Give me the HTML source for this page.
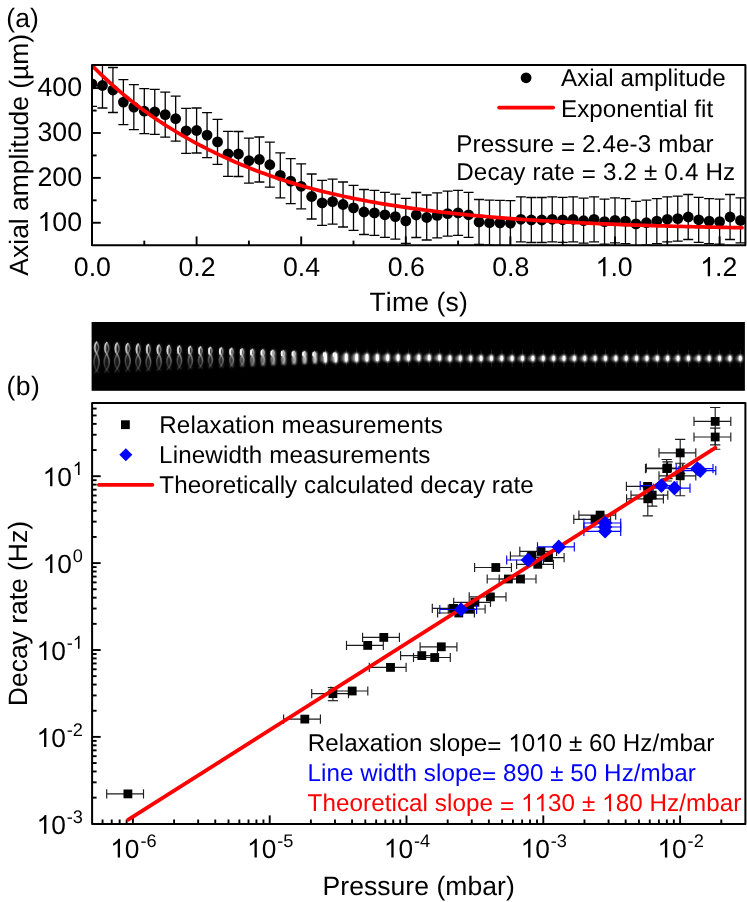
<!DOCTYPE html>
<html><head><meta charset="utf-8"><title>figure</title>
<style>html,body{margin:0;padding:0;background:#fff;overflow:hidden}svg{display:block;font-family:"Liberation Sans", sans-serif;will-change:transform;transform:translateZ(0);-webkit-font-smoothing:antialiased;text-rendering:geometricPrecision;font-kerning:none}</style></head><body>
<svg width="747" height="902" viewBox="0 0 747 902">
<defs>
<clipPath id="ct"><rect x="92.0" y="65.0" width="653.4" height="180.2"/></clipPath>
<clipPath id="cb"><rect x="92.1" y="403.1" width="653.3" height="420.9"/></clipPath>
<clipPath id="cs"><rect x="91.6" y="322" width="653.3" height="68.8"/></clipPath>
<filter id="b1" x="-50%" y="-50%" width="200%" height="200%"><feGaussianBlur stdDeviation="0.7"/></filter>
<filter id="b2" x="-50%" y="-50%" width="200%" height="200%"><feGaussianBlur stdDeviation="0.9"/></filter>
<filter id="b0" x="-50%" y="-50%" width="200%" height="200%"><feGaussianBlur stdDeviation="0.45"/></filter>
<linearGradient id="gb" x1="0" y1="0" x2="0" y2="1"><stop offset="0" stop-color="#fff" stop-opacity="0.95"/><stop offset="0.18" stop-color="#fff" stop-opacity="0.72"/><stop offset="0.6" stop-color="#fff" stop-opacity="0.55"/><stop offset="0.85" stop-color="#fff" stop-opacity="0.34"/><stop offset="1" stop-color="#fff" stop-opacity="0.15"/></linearGradient>
<linearGradient id="gs" x1="0" y1="0" x2="0" y2="1"><stop offset="0" stop-color="#fff" stop-opacity="0.95"/><stop offset="0.2" stop-color="#fff" stop-opacity="0.72"/><stop offset="0.6" stop-color="#fff" stop-opacity="0.55"/><stop offset="0.85" stop-color="#fff" stop-opacity="0.32"/><stop offset="1" stop-color="#fff" stop-opacity="0.12"/></linearGradient>
<filter id="b3" x="-50%" y="-50%" width="200%" height="200%"><feGaussianBlur stdDeviation="0.6"/></filter>
</defs>
<rect x="0" y="0" width="747" height="902" fill="#fff"/>
<line x1="92.00" y1="222.76" x2="100.80" y2="222.76" stroke="#000" stroke-width="1.9" />
<line x1="92.00" y1="177.88" x2="100.80" y2="177.88" stroke="#000" stroke-width="1.9" />
<line x1="92.00" y1="133.00" x2="100.80" y2="133.00" stroke="#000" stroke-width="1.9" />
<line x1="92.00" y1="88.12" x2="100.80" y2="88.12" stroke="#000" stroke-width="1.9" />
<line x1="92.00" y1="200.32" x2="96.60" y2="200.32" stroke="#000" stroke-width="1.9" />
<line x1="92.00" y1="155.44" x2="96.60" y2="155.44" stroke="#000" stroke-width="1.9" />
<line x1="92.00" y1="110.56" x2="96.60" y2="110.56" stroke="#000" stroke-width="1.9" />
<line x1="92.00" y1="245.20" x2="92.00" y2="236.40" stroke="#000" stroke-width="1.9" />
<line x1="144.30" y1="245.20" x2="144.30" y2="240.60" stroke="#000" stroke-width="1.9" />
<line x1="196.60" y1="245.20" x2="196.60" y2="236.40" stroke="#000" stroke-width="1.9" />
<line x1="248.90" y1="245.20" x2="248.90" y2="240.60" stroke="#000" stroke-width="1.9" />
<line x1="301.20" y1="245.20" x2="301.20" y2="236.40" stroke="#000" stroke-width="1.9" />
<line x1="353.50" y1="245.20" x2="353.50" y2="240.60" stroke="#000" stroke-width="1.9" />
<line x1="405.80" y1="245.20" x2="405.80" y2="236.40" stroke="#000" stroke-width="1.9" />
<line x1="458.10" y1="245.20" x2="458.10" y2="240.60" stroke="#000" stroke-width="1.9" />
<line x1="510.40" y1="245.20" x2="510.40" y2="236.40" stroke="#000" stroke-width="1.9" />
<line x1="562.70" y1="245.20" x2="562.70" y2="240.60" stroke="#000" stroke-width="1.9" />
<line x1="615.00" y1="245.20" x2="615.00" y2="236.40" stroke="#000" stroke-width="1.9" />
<line x1="667.30" y1="245.20" x2="667.30" y2="240.60" stroke="#000" stroke-width="1.9" />
<line x1="719.60" y1="245.20" x2="719.60" y2="236.40" stroke="#000" stroke-width="1.9" />
<g clip-path="url(#ct)">
<line x1="92.00" y1="61.40" x2="92.00" y2="106.40" stroke="#000" stroke-width="1.3" />
<line x1="87.00" y1="61.40" x2="97.00" y2="61.40" stroke="#000" stroke-width="1.3" />
<line x1="87.00" y1="106.40" x2="97.00" y2="106.40" stroke="#000" stroke-width="1.3" />
<line x1="102.46" y1="63.00" x2="102.46" y2="108.00" stroke="#000" stroke-width="1.3" />
<line x1="97.46" y1="63.00" x2="107.46" y2="63.00" stroke="#000" stroke-width="1.3" />
<line x1="97.46" y1="108.00" x2="107.46" y2="108.00" stroke="#000" stroke-width="1.3" />
<line x1="112.92" y1="67.50" x2="112.92" y2="112.50" stroke="#000" stroke-width="1.3" />
<line x1="107.92" y1="67.50" x2="117.92" y2="67.50" stroke="#000" stroke-width="1.3" />
<line x1="107.92" y1="112.50" x2="117.92" y2="112.50" stroke="#000" stroke-width="1.3" />
<line x1="123.38" y1="79.60" x2="123.38" y2="124.60" stroke="#000" stroke-width="1.3" />
<line x1="118.38" y1="79.60" x2="128.38" y2="79.60" stroke="#000" stroke-width="1.3" />
<line x1="118.38" y1="124.60" x2="128.38" y2="124.60" stroke="#000" stroke-width="1.3" />
<line x1="133.84" y1="84.60" x2="133.84" y2="129.60" stroke="#000" stroke-width="1.3" />
<line x1="128.84" y1="84.60" x2="138.84" y2="84.60" stroke="#000" stroke-width="1.3" />
<line x1="128.84" y1="129.60" x2="138.84" y2="129.60" stroke="#000" stroke-width="1.3" />
<line x1="144.30" y1="88.70" x2="144.30" y2="133.70" stroke="#000" stroke-width="1.3" />
<line x1="139.30" y1="88.70" x2="149.30" y2="88.70" stroke="#000" stroke-width="1.3" />
<line x1="139.30" y1="133.70" x2="149.30" y2="133.70" stroke="#000" stroke-width="1.3" />
<line x1="154.76" y1="89.40" x2="154.76" y2="134.40" stroke="#000" stroke-width="1.3" />
<line x1="149.76" y1="89.40" x2="159.76" y2="89.40" stroke="#000" stroke-width="1.3" />
<line x1="149.76" y1="134.40" x2="159.76" y2="134.40" stroke="#000" stroke-width="1.3" />
<line x1="165.22" y1="92.10" x2="165.22" y2="137.10" stroke="#000" stroke-width="1.3" />
<line x1="160.22" y1="92.10" x2="170.22" y2="92.10" stroke="#000" stroke-width="1.3" />
<line x1="160.22" y1="137.10" x2="170.22" y2="137.10" stroke="#000" stroke-width="1.3" />
<line x1="175.68" y1="96.20" x2="175.68" y2="141.20" stroke="#000" stroke-width="1.3" />
<line x1="170.68" y1="96.20" x2="180.68" y2="96.20" stroke="#000" stroke-width="1.3" />
<line x1="170.68" y1="141.20" x2="180.68" y2="141.20" stroke="#000" stroke-width="1.3" />
<line x1="186.14" y1="108.30" x2="186.14" y2="153.30" stroke="#000" stroke-width="1.3" />
<line x1="181.14" y1="108.30" x2="191.14" y2="108.30" stroke="#000" stroke-width="1.3" />
<line x1="181.14" y1="153.30" x2="191.14" y2="153.30" stroke="#000" stroke-width="1.3" />
<line x1="196.60" y1="108.00" x2="196.60" y2="153.00" stroke="#000" stroke-width="1.3" />
<line x1="191.60" y1="108.00" x2="201.60" y2="108.00" stroke="#000" stroke-width="1.3" />
<line x1="191.60" y1="153.00" x2="201.60" y2="153.00" stroke="#000" stroke-width="1.3" />
<line x1="207.06" y1="112.60" x2="207.06" y2="157.60" stroke="#000" stroke-width="1.3" />
<line x1="202.06" y1="112.60" x2="212.06" y2="112.60" stroke="#000" stroke-width="1.3" />
<line x1="202.06" y1="157.60" x2="212.06" y2="157.60" stroke="#000" stroke-width="1.3" />
<line x1="217.52" y1="119.40" x2="217.52" y2="164.40" stroke="#000" stroke-width="1.3" />
<line x1="212.52" y1="119.40" x2="222.52" y2="119.40" stroke="#000" stroke-width="1.3" />
<line x1="212.52" y1="164.40" x2="222.52" y2="164.40" stroke="#000" stroke-width="1.3" />
<line x1="227.98" y1="131.30" x2="227.98" y2="176.30" stroke="#000" stroke-width="1.3" />
<line x1="222.98" y1="131.30" x2="232.98" y2="131.30" stroke="#000" stroke-width="1.3" />
<line x1="222.98" y1="176.30" x2="232.98" y2="176.30" stroke="#000" stroke-width="1.3" />
<line x1="238.44" y1="131.50" x2="238.44" y2="176.50" stroke="#000" stroke-width="1.3" />
<line x1="233.44" y1="131.50" x2="243.44" y2="131.50" stroke="#000" stroke-width="1.3" />
<line x1="233.44" y1="176.50" x2="243.44" y2="176.50" stroke="#000" stroke-width="1.3" />
<line x1="248.90" y1="138.10" x2="248.90" y2="183.10" stroke="#000" stroke-width="1.3" />
<line x1="243.90" y1="138.10" x2="253.90" y2="138.10" stroke="#000" stroke-width="1.3" />
<line x1="243.90" y1="183.10" x2="253.90" y2="183.10" stroke="#000" stroke-width="1.3" />
<line x1="259.36" y1="137.00" x2="259.36" y2="182.00" stroke="#000" stroke-width="1.3" />
<line x1="254.36" y1="137.00" x2="264.36" y2="137.00" stroke="#000" stroke-width="1.3" />
<line x1="254.36" y1="182.00" x2="264.36" y2="182.00" stroke="#000" stroke-width="1.3" />
<line x1="269.82" y1="142.20" x2="269.82" y2="187.20" stroke="#000" stroke-width="1.3" />
<line x1="264.82" y1="142.20" x2="274.82" y2="142.20" stroke="#000" stroke-width="1.3" />
<line x1="264.82" y1="187.20" x2="274.82" y2="187.20" stroke="#000" stroke-width="1.3" />
<line x1="280.28" y1="152.90" x2="280.28" y2="197.90" stroke="#000" stroke-width="1.3" />
<line x1="275.28" y1="152.90" x2="285.28" y2="152.90" stroke="#000" stroke-width="1.3" />
<line x1="275.28" y1="197.90" x2="285.28" y2="197.90" stroke="#000" stroke-width="1.3" />
<line x1="290.74" y1="158.60" x2="290.74" y2="203.60" stroke="#000" stroke-width="1.3" />
<line x1="285.74" y1="158.60" x2="295.74" y2="158.60" stroke="#000" stroke-width="1.3" />
<line x1="285.74" y1="203.60" x2="295.74" y2="203.60" stroke="#000" stroke-width="1.3" />
<line x1="301.20" y1="163.80" x2="301.20" y2="208.80" stroke="#000" stroke-width="1.3" />
<line x1="296.20" y1="163.80" x2="306.20" y2="163.80" stroke="#000" stroke-width="1.3" />
<line x1="296.20" y1="208.80" x2="306.20" y2="208.80" stroke="#000" stroke-width="1.3" />
<line x1="311.66" y1="174.00" x2="311.66" y2="219.00" stroke="#000" stroke-width="1.3" />
<line x1="306.66" y1="174.00" x2="316.66" y2="174.00" stroke="#000" stroke-width="1.3" />
<line x1="306.66" y1="219.00" x2="316.66" y2="219.00" stroke="#000" stroke-width="1.3" />
<line x1="322.12" y1="180.40" x2="322.12" y2="225.40" stroke="#000" stroke-width="1.3" />
<line x1="317.12" y1="180.40" x2="327.12" y2="180.40" stroke="#000" stroke-width="1.3" />
<line x1="317.12" y1="225.40" x2="327.12" y2="225.40" stroke="#000" stroke-width="1.3" />
<line x1="332.58" y1="179.10" x2="332.58" y2="224.10" stroke="#000" stroke-width="1.3" />
<line x1="327.58" y1="179.10" x2="337.58" y2="179.10" stroke="#000" stroke-width="1.3" />
<line x1="327.58" y1="224.10" x2="337.58" y2="224.10" stroke="#000" stroke-width="1.3" />
<line x1="343.04" y1="182.00" x2="343.04" y2="227.00" stroke="#000" stroke-width="1.3" />
<line x1="338.04" y1="182.00" x2="348.04" y2="182.00" stroke="#000" stroke-width="1.3" />
<line x1="338.04" y1="227.00" x2="348.04" y2="227.00" stroke="#000" stroke-width="1.3" />
<line x1="353.50" y1="185.40" x2="353.50" y2="230.40" stroke="#000" stroke-width="1.3" />
<line x1="348.50" y1="185.40" x2="358.50" y2="185.40" stroke="#000" stroke-width="1.3" />
<line x1="348.50" y1="230.40" x2="358.50" y2="230.40" stroke="#000" stroke-width="1.3" />
<line x1="363.96" y1="189.50" x2="363.96" y2="234.50" stroke="#000" stroke-width="1.3" />
<line x1="358.96" y1="189.50" x2="368.96" y2="189.50" stroke="#000" stroke-width="1.3" />
<line x1="358.96" y1="234.50" x2="368.96" y2="234.50" stroke="#000" stroke-width="1.3" />
<line x1="374.42" y1="190.40" x2="374.42" y2="235.40" stroke="#000" stroke-width="1.3" />
<line x1="369.42" y1="190.40" x2="379.42" y2="190.40" stroke="#000" stroke-width="1.3" />
<line x1="369.42" y1="235.40" x2="379.42" y2="235.40" stroke="#000" stroke-width="1.3" />
<line x1="384.88" y1="192.30" x2="384.88" y2="237.30" stroke="#000" stroke-width="1.3" />
<line x1="379.88" y1="192.30" x2="389.88" y2="192.30" stroke="#000" stroke-width="1.3" />
<line x1="379.88" y1="237.30" x2="389.88" y2="237.30" stroke="#000" stroke-width="1.3" />
<line x1="395.34" y1="194.10" x2="395.34" y2="239.10" stroke="#000" stroke-width="1.3" />
<line x1="390.34" y1="194.10" x2="400.34" y2="194.10" stroke="#000" stroke-width="1.3" />
<line x1="390.34" y1="239.10" x2="400.34" y2="239.10" stroke="#000" stroke-width="1.3" />
<line x1="405.80" y1="198.40" x2="405.80" y2="243.40" stroke="#000" stroke-width="1.3" />
<line x1="400.80" y1="198.40" x2="410.80" y2="198.40" stroke="#000" stroke-width="1.3" />
<line x1="400.80" y1="243.40" x2="410.80" y2="243.40" stroke="#000" stroke-width="1.3" />
<line x1="416.26" y1="192.50" x2="416.26" y2="237.50" stroke="#000" stroke-width="1.3" />
<line x1="411.26" y1="192.50" x2="421.26" y2="192.50" stroke="#000" stroke-width="1.3" />
<line x1="411.26" y1="237.50" x2="421.26" y2="237.50" stroke="#000" stroke-width="1.3" />
<line x1="426.72" y1="195.00" x2="426.72" y2="240.00" stroke="#000" stroke-width="1.3" />
<line x1="421.72" y1="195.00" x2="431.72" y2="195.00" stroke="#000" stroke-width="1.3" />
<line x1="421.72" y1="240.00" x2="431.72" y2="240.00" stroke="#000" stroke-width="1.3" />
<line x1="437.18" y1="192.90" x2="437.18" y2="237.90" stroke="#000" stroke-width="1.3" />
<line x1="432.18" y1="192.90" x2="442.18" y2="192.90" stroke="#000" stroke-width="1.3" />
<line x1="432.18" y1="237.90" x2="442.18" y2="237.90" stroke="#000" stroke-width="1.3" />
<line x1="447.64" y1="191.10" x2="447.64" y2="236.10" stroke="#000" stroke-width="1.3" />
<line x1="442.64" y1="191.10" x2="452.64" y2="191.10" stroke="#000" stroke-width="1.3" />
<line x1="442.64" y1="236.10" x2="452.64" y2="236.10" stroke="#000" stroke-width="1.3" />
<line x1="458.10" y1="190.40" x2="458.10" y2="235.40" stroke="#000" stroke-width="1.3" />
<line x1="453.10" y1="190.40" x2="463.10" y2="190.40" stroke="#000" stroke-width="1.3" />
<line x1="453.10" y1="235.40" x2="463.10" y2="235.40" stroke="#000" stroke-width="1.3" />
<line x1="468.56" y1="192.30" x2="468.56" y2="237.30" stroke="#000" stroke-width="1.3" />
<line x1="463.56" y1="192.30" x2="473.56" y2="192.30" stroke="#000" stroke-width="1.3" />
<line x1="463.56" y1="237.30" x2="473.56" y2="237.30" stroke="#000" stroke-width="1.3" />
<line x1="479.02" y1="199.50" x2="479.02" y2="244.50" stroke="#000" stroke-width="1.3" />
<line x1="474.02" y1="199.50" x2="484.02" y2="199.50" stroke="#000" stroke-width="1.3" />
<line x1="474.02" y1="244.50" x2="484.02" y2="244.50" stroke="#000" stroke-width="1.3" />
<line x1="489.48" y1="200.20" x2="489.48" y2="245.20" stroke="#000" stroke-width="1.3" />
<line x1="484.48" y1="200.20" x2="494.48" y2="200.20" stroke="#000" stroke-width="1.3" />
<line x1="484.48" y1="245.20" x2="494.48" y2="245.20" stroke="#000" stroke-width="1.3" />
<line x1="499.94" y1="200.40" x2="499.94" y2="245.40" stroke="#000" stroke-width="1.3" />
<line x1="494.94" y1="200.40" x2="504.94" y2="200.40" stroke="#000" stroke-width="1.3" />
<line x1="494.94" y1="245.40" x2="504.94" y2="245.40" stroke="#000" stroke-width="1.3" />
<line x1="510.40" y1="200.70" x2="510.40" y2="245.70" stroke="#000" stroke-width="1.3" />
<line x1="505.40" y1="200.70" x2="515.40" y2="200.70" stroke="#000" stroke-width="1.3" />
<line x1="505.40" y1="245.70" x2="515.40" y2="245.70" stroke="#000" stroke-width="1.3" />
<line x1="520.86" y1="196.80" x2="520.86" y2="241.80" stroke="#000" stroke-width="1.3" />
<line x1="515.86" y1="196.80" x2="525.86" y2="196.80" stroke="#000" stroke-width="1.3" />
<line x1="515.86" y1="241.80" x2="525.86" y2="241.80" stroke="#000" stroke-width="1.3" />
<line x1="531.32" y1="197.50" x2="531.32" y2="242.50" stroke="#000" stroke-width="1.3" />
<line x1="526.32" y1="197.50" x2="536.32" y2="197.50" stroke="#000" stroke-width="1.3" />
<line x1="526.32" y1="242.50" x2="536.32" y2="242.50" stroke="#000" stroke-width="1.3" />
<line x1="541.78" y1="197.50" x2="541.78" y2="242.50" stroke="#000" stroke-width="1.3" />
<line x1="536.78" y1="197.50" x2="546.78" y2="197.50" stroke="#000" stroke-width="1.3" />
<line x1="536.78" y1="242.50" x2="546.78" y2="242.50" stroke="#000" stroke-width="1.3" />
<line x1="552.24" y1="196.80" x2="552.24" y2="241.80" stroke="#000" stroke-width="1.3" />
<line x1="547.24" y1="196.80" x2="557.24" y2="196.80" stroke="#000" stroke-width="1.3" />
<line x1="547.24" y1="241.80" x2="557.24" y2="241.80" stroke="#000" stroke-width="1.3" />
<line x1="562.70" y1="197.30" x2="562.70" y2="242.30" stroke="#000" stroke-width="1.3" />
<line x1="557.70" y1="197.30" x2="567.70" y2="197.30" stroke="#000" stroke-width="1.3" />
<line x1="557.70" y1="242.30" x2="567.70" y2="242.30" stroke="#000" stroke-width="1.3" />
<line x1="573.16" y1="196.80" x2="573.16" y2="241.80" stroke="#000" stroke-width="1.3" />
<line x1="568.16" y1="196.80" x2="578.16" y2="196.80" stroke="#000" stroke-width="1.3" />
<line x1="568.16" y1="241.80" x2="578.16" y2="241.80" stroke="#000" stroke-width="1.3" />
<line x1="583.62" y1="198.20" x2="583.62" y2="243.20" stroke="#000" stroke-width="1.3" />
<line x1="578.62" y1="198.20" x2="588.62" y2="198.20" stroke="#000" stroke-width="1.3" />
<line x1="578.62" y1="243.20" x2="588.62" y2="243.20" stroke="#000" stroke-width="1.3" />
<line x1="594.08" y1="196.80" x2="594.08" y2="241.80" stroke="#000" stroke-width="1.3" />
<line x1="589.08" y1="196.80" x2="599.08" y2="196.80" stroke="#000" stroke-width="1.3" />
<line x1="589.08" y1="241.80" x2="599.08" y2="241.80" stroke="#000" stroke-width="1.3" />
<line x1="604.54" y1="199.10" x2="604.54" y2="244.10" stroke="#000" stroke-width="1.3" />
<line x1="599.54" y1="199.10" x2="609.54" y2="199.10" stroke="#000" stroke-width="1.3" />
<line x1="599.54" y1="244.10" x2="609.54" y2="244.10" stroke="#000" stroke-width="1.3" />
<line x1="615.00" y1="197.90" x2="615.00" y2="242.90" stroke="#000" stroke-width="1.3" />
<line x1="610.00" y1="197.90" x2="620.00" y2="197.90" stroke="#000" stroke-width="1.3" />
<line x1="610.00" y1="242.90" x2="620.00" y2="242.90" stroke="#000" stroke-width="1.3" />
<line x1="625.46" y1="198.60" x2="625.46" y2="243.60" stroke="#000" stroke-width="1.3" />
<line x1="620.46" y1="198.60" x2="630.46" y2="198.60" stroke="#000" stroke-width="1.3" />
<line x1="620.46" y1="243.60" x2="630.46" y2="243.60" stroke="#000" stroke-width="1.3" />
<line x1="635.92" y1="201.40" x2="635.92" y2="246.40" stroke="#000" stroke-width="1.3" />
<line x1="630.92" y1="201.40" x2="640.92" y2="201.40" stroke="#000" stroke-width="1.3" />
<line x1="630.92" y1="246.40" x2="640.92" y2="246.40" stroke="#000" stroke-width="1.3" />
<line x1="646.38" y1="200.20" x2="646.38" y2="245.20" stroke="#000" stroke-width="1.3" />
<line x1="641.38" y1="200.20" x2="651.38" y2="200.20" stroke="#000" stroke-width="1.3" />
<line x1="641.38" y1="245.20" x2="651.38" y2="245.20" stroke="#000" stroke-width="1.3" />
<line x1="656.84" y1="198.60" x2="656.84" y2="243.60" stroke="#000" stroke-width="1.3" />
<line x1="651.84" y1="198.60" x2="661.84" y2="198.60" stroke="#000" stroke-width="1.3" />
<line x1="651.84" y1="243.60" x2="661.84" y2="243.60" stroke="#000" stroke-width="1.3" />
<line x1="667.30" y1="196.80" x2="667.30" y2="241.80" stroke="#000" stroke-width="1.3" />
<line x1="662.30" y1="196.80" x2="672.30" y2="196.80" stroke="#000" stroke-width="1.3" />
<line x1="662.30" y1="241.80" x2="672.30" y2="241.80" stroke="#000" stroke-width="1.3" />
<line x1="677.76" y1="196.10" x2="677.76" y2="241.10" stroke="#000" stroke-width="1.3" />
<line x1="672.76" y1="196.10" x2="682.76" y2="196.10" stroke="#000" stroke-width="1.3" />
<line x1="672.76" y1="241.10" x2="682.76" y2="241.10" stroke="#000" stroke-width="1.3" />
<line x1="688.22" y1="194.50" x2="688.22" y2="239.50" stroke="#000" stroke-width="1.3" />
<line x1="683.22" y1="194.50" x2="693.22" y2="194.50" stroke="#000" stroke-width="1.3" />
<line x1="683.22" y1="239.50" x2="693.22" y2="239.50" stroke="#000" stroke-width="1.3" />
<line x1="698.68" y1="197.30" x2="698.68" y2="242.30" stroke="#000" stroke-width="1.3" />
<line x1="693.68" y1="197.30" x2="703.68" y2="197.30" stroke="#000" stroke-width="1.3" />
<line x1="693.68" y1="242.30" x2="703.68" y2="242.30" stroke="#000" stroke-width="1.3" />
<line x1="709.14" y1="198.60" x2="709.14" y2="243.60" stroke="#000" stroke-width="1.3" />
<line x1="704.14" y1="198.60" x2="714.14" y2="198.60" stroke="#000" stroke-width="1.3" />
<line x1="704.14" y1="243.60" x2="714.14" y2="243.60" stroke="#000" stroke-width="1.3" />
<line x1="719.60" y1="199.10" x2="719.60" y2="244.10" stroke="#000" stroke-width="1.3" />
<line x1="714.60" y1="199.10" x2="724.60" y2="199.10" stroke="#000" stroke-width="1.3" />
<line x1="714.60" y1="244.10" x2="724.60" y2="244.10" stroke="#000" stroke-width="1.3" />
<line x1="730.06" y1="194.50" x2="730.06" y2="239.50" stroke="#000" stroke-width="1.3" />
<line x1="725.06" y1="194.50" x2="735.06" y2="194.50" stroke="#000" stroke-width="1.3" />
<line x1="725.06" y1="239.50" x2="735.06" y2="239.50" stroke="#000" stroke-width="1.3" />
<line x1="740.52" y1="197.90" x2="740.52" y2="242.90" stroke="#000" stroke-width="1.3" />
<line x1="735.52" y1="197.90" x2="745.52" y2="197.90" stroke="#000" stroke-width="1.3" />
<line x1="735.52" y1="242.90" x2="745.52" y2="242.90" stroke="#000" stroke-width="1.3" />
<circle cx="92.00" cy="83.90" r="5.4" fill="#000"/>
<circle cx="102.46" cy="85.50" r="5.4" fill="#000"/>
<circle cx="112.92" cy="90.00" r="5.4" fill="#000"/>
<circle cx="123.38" cy="102.10" r="5.4" fill="#000"/>
<circle cx="133.84" cy="107.10" r="5.4" fill="#000"/>
<circle cx="144.30" cy="111.20" r="5.4" fill="#000"/>
<circle cx="154.76" cy="111.90" r="5.4" fill="#000"/>
<circle cx="165.22" cy="114.60" r="5.4" fill="#000"/>
<circle cx="175.68" cy="118.70" r="5.4" fill="#000"/>
<circle cx="186.14" cy="130.80" r="5.4" fill="#000"/>
<circle cx="196.60" cy="130.50" r="5.4" fill="#000"/>
<circle cx="207.06" cy="135.10" r="5.4" fill="#000"/>
<circle cx="217.52" cy="141.90" r="5.4" fill="#000"/>
<circle cx="227.98" cy="153.80" r="5.4" fill="#000"/>
<circle cx="238.44" cy="154.00" r="5.4" fill="#000"/>
<circle cx="248.90" cy="160.60" r="5.4" fill="#000"/>
<circle cx="259.36" cy="159.50" r="5.4" fill="#000"/>
<circle cx="269.82" cy="164.70" r="5.4" fill="#000"/>
<circle cx="280.28" cy="175.40" r="5.4" fill="#000"/>
<circle cx="290.74" cy="181.10" r="5.4" fill="#000"/>
<circle cx="301.20" cy="186.30" r="5.4" fill="#000"/>
<circle cx="311.66" cy="196.50" r="5.4" fill="#000"/>
<circle cx="322.12" cy="202.90" r="5.4" fill="#000"/>
<circle cx="332.58" cy="201.60" r="5.4" fill="#000"/>
<circle cx="343.04" cy="204.50" r="5.4" fill="#000"/>
<circle cx="353.50" cy="207.90" r="5.4" fill="#000"/>
<circle cx="363.96" cy="212.00" r="5.4" fill="#000"/>
<circle cx="374.42" cy="212.90" r="5.4" fill="#000"/>
<circle cx="384.88" cy="214.80" r="5.4" fill="#000"/>
<circle cx="395.34" cy="216.60" r="5.4" fill="#000"/>
<circle cx="405.80" cy="220.90" r="5.4" fill="#000"/>
<circle cx="416.26" cy="215.00" r="5.4" fill="#000"/>
<circle cx="426.72" cy="217.50" r="5.4" fill="#000"/>
<circle cx="437.18" cy="215.40" r="5.4" fill="#000"/>
<circle cx="447.64" cy="213.60" r="5.4" fill="#000"/>
<circle cx="458.10" cy="212.90" r="5.4" fill="#000"/>
<circle cx="468.56" cy="214.80" r="5.4" fill="#000"/>
<circle cx="479.02" cy="222.00" r="5.4" fill="#000"/>
<circle cx="489.48" cy="222.70" r="5.4" fill="#000"/>
<circle cx="499.94" cy="222.90" r="5.4" fill="#000"/>
<circle cx="510.40" cy="223.20" r="5.4" fill="#000"/>
<circle cx="520.86" cy="219.30" r="5.4" fill="#000"/>
<circle cx="531.32" cy="220.00" r="5.4" fill="#000"/>
<circle cx="541.78" cy="220.00" r="5.4" fill="#000"/>
<circle cx="552.24" cy="219.30" r="5.4" fill="#000"/>
<circle cx="562.70" cy="219.80" r="5.4" fill="#000"/>
<circle cx="573.16" cy="219.30" r="5.4" fill="#000"/>
<circle cx="583.62" cy="220.70" r="5.4" fill="#000"/>
<circle cx="594.08" cy="219.30" r="5.4" fill="#000"/>
<circle cx="604.54" cy="221.60" r="5.4" fill="#000"/>
<circle cx="615.00" cy="220.40" r="5.4" fill="#000"/>
<circle cx="625.46" cy="221.10" r="5.4" fill="#000"/>
<circle cx="635.92" cy="223.90" r="5.4" fill="#000"/>
<circle cx="646.38" cy="222.70" r="5.4" fill="#000"/>
<circle cx="656.84" cy="221.10" r="5.4" fill="#000"/>
<circle cx="667.30" cy="219.30" r="5.4" fill="#000"/>
<circle cx="677.76" cy="218.60" r="5.4" fill="#000"/>
<circle cx="688.22" cy="217.00" r="5.4" fill="#000"/>
<circle cx="698.68" cy="219.80" r="5.4" fill="#000"/>
<circle cx="709.14" cy="221.10" r="5.4" fill="#000"/>
<circle cx="719.60" cy="221.60" r="5.4" fill="#000"/>
<circle cx="730.06" cy="217.00" r="5.4" fill="#000"/>
<circle cx="740.52" cy="220.40" r="5.4" fill="#000"/>
<polyline points="92.00,65.50 95.25,68.78 98.50,71.99 101.75,75.13 105.00,78.21 108.25,81.22 111.50,84.17 114.75,87.06 118.00,89.89 121.25,92.66 124.50,95.37 127.75,98.03 131.01,100.63 134.26,103.17 137.51,105.67 140.76,108.11 144.01,110.51 147.26,112.85 150.51,115.15 153.76,117.40 157.01,119.61 160.26,121.78 163.51,123.90 166.76,125.99 170.01,128.03 173.26,130.03 176.51,132.00 179.76,133.93 183.01,135.83 186.26,137.69 189.51,139.51 192.76,141.31 196.01,143.07 199.26,144.80 202.52,146.50 205.77,148.17 209.02,149.81 212.27,151.42 215.52,153.00 218.77,154.56 222.02,156.09 225.27,157.59 228.52,159.06 231.77,160.51 235.02,161.93 238.27,163.33 241.52,164.70 244.77,166.05 248.02,167.37 251.27,168.67 254.52,169.94 257.77,171.19 261.02,172.41 264.27,173.61 267.52,174.79 270.77,175.94 274.02,177.07 277.28,178.18 280.53,179.27 283.78,180.33 287.03,181.37 290.28,182.39 293.53,183.39 296.78,184.36 300.03,185.32 303.28,186.26 306.53,187.17 309.78,188.07 313.03,188.94 316.28,189.80 319.53,190.64 322.78,191.46 326.03,192.27 329.28,193.05 332.53,193.82 335.78,194.57 339.03,195.31 342.28,196.03 345.53,196.74 348.79,197.43 352.04,198.10 355.29,198.76 358.54,199.41 361.79,200.04 365.04,200.66 368.29,201.27 371.54,201.86 374.79,202.44 378.04,203.01 381.29,203.57 384.54,204.12 387.79,204.65 391.04,205.17 394.29,205.69 397.54,206.19 400.79,206.68 404.04,207.16 407.29,207.63 410.54,208.10 413.79,208.55 417.04,208.99 420.29,209.43 423.55,209.85 426.80,210.27 430.05,210.68 433.30,211.08 436.55,211.47 439.80,211.86 443.05,212.23 446.30,212.60 449.55,212.96 452.80,213.32 456.05,213.67 459.30,214.01 462.55,214.34 465.80,214.67 469.05,214.99 472.30,215.30 475.55,215.61 478.80,215.91 482.05,216.20 485.30,216.49 488.55,216.78 491.80,217.05 495.06,217.33 498.31,217.59 501.56,217.85 504.81,218.11 508.06,218.36 511.31,218.61 514.56,218.85 517.81,219.08 521.06,219.31 524.31,219.54 527.56,219.76 530.81,219.98 534.06,220.19 537.31,220.40 540.56,220.61 543.81,220.81 547.06,221.00 550.31,221.20 553.56,221.38 556.81,221.57 560.06,221.75 563.31,221.93 566.56,222.10 569.82,222.27 573.07,222.44 576.32,222.60 579.57,222.76 582.82,222.92 586.07,223.08 589.32,223.23 592.57,223.37 595.82,223.52 599.07,223.66 602.32,223.80 605.57,223.94 608.82,224.07 612.07,224.20 615.32,224.33 618.57,224.45 621.82,224.58 625.07,224.70 628.32,224.82 631.57,224.93 634.82,225.05 638.07,225.16 641.33,225.27 644.58,225.37 647.83,225.48 651.08,225.58 654.33,225.68 657.58,225.78 660.83,225.88 664.08,225.97 667.33,226.06 670.58,226.15 673.83,226.24 677.08,226.33 680.33,226.41 683.58,226.50 686.83,226.58 690.08,226.66 693.33,226.74 696.58,226.82 699.83,226.89 703.08,226.97 706.33,227.04 709.58,227.11 712.83,227.18 716.09,227.25 719.34,227.32 722.59,227.38 725.84,227.45 729.09,227.51 732.34,227.57 735.59,227.63 738.84,227.69 742.09,227.75" fill="none" stroke="#ff0000" stroke-width="3.7" stroke-linejoin="round" stroke-linecap="round"/>
</g>
<rect x="92.0" y="65.0" width="653.4" height="180.2" fill="none" stroke="#000" stroke-width="2.0" stroke-linejoin="round"/>
<path d="M763 0H583V1147Q518 1085 412.5 1023T223 930V1104Q371 1174 482 1273T639 1466H763V0Z" fill="#000" transform="translate(37.50,231.06) scale(0.01304,-0.01304)"/>
<text x="52.35" y="231.06" font-size="26.7" fill="#000" xml:space="preserve">00</text>
<text x="37.50" y="186.18" font-size="26.7" fill="#000" xml:space="preserve">200</text>
<text x="37.50" y="141.30" font-size="26.7" fill="#000" xml:space="preserve">300</text>
<text x="37.50" y="96.42" font-size="26.7" fill="#000" xml:space="preserve">400</text>
<text x="73.84" y="276.20" font-size="26.7" fill="#000" xml:space="preserve">0.0</text>
<text x="178.44" y="276.20" font-size="26.7" fill="#000" xml:space="preserve">0.2</text>
<text x="283.04" y="276.20" font-size="26.7" fill="#000" xml:space="preserve">0.4</text>
<text x="387.64" y="276.20" font-size="26.7" fill="#000" xml:space="preserve">0.6</text>
<text x="492.24" y="276.20" font-size="26.7" fill="#000" xml:space="preserve">0.8</text>
<path d="M763 0H583V1147Q518 1085 412.5 1023T223 930V1104Q371 1174 482 1273T639 1466H763V0Z" fill="#000" transform="translate(595.54,276.20) scale(0.01304,-0.01304)"/>
<text x="610.39" y="276.20" font-size="26.7" fill="#000" xml:space="preserve">.0</text>
<path d="M763 0H583V1147Q518 1085 412.5 1023T223 930V1104Q371 1174 482 1273T639 1466H763V0Z" fill="#000" transform="translate(700.14,276.20) scale(0.01304,-0.01304)"/>
<text x="714.99" y="276.20" font-size="26.7" fill="#000" xml:space="preserve">.2</text>
<text x="369.52" y="310.60" font-size="26.5" fill="#000" letter-spacing="0.154" xml:space="preserve">Time (s)</text>
<g transform="translate(27.60,0.00) rotate(-90)">
<text x="-275.65" y="0.00" font-size="26.5" fill="#000" letter-spacing="-0.014" xml:space="preserve">Axial amplitude (µm)</text>
</g>
<text x="6.36" y="26.70" font-size="26.5" fill="#000" letter-spacing="0.049" xml:space="preserve">(a)</text>
<circle cx="526.1" cy="77.8" r="5.4" fill="#000"/>
<line x1="499.10" y1="107.60" x2="553.20" y2="107.60" stroke="#ff0000" stroke-width="3.7" stroke-linecap="round"/>
<text x="560.95" y="86.00" font-size="24.2" fill="#000" letter-spacing="0.051" xml:space="preserve">Axial amplitude</text>
<text x="561.02" y="116.90" font-size="24.2" fill="#000" letter-spacing="0.016" xml:space="preserve">Exponential fit</text>
<text x="456.22" y="152.20" font-size="24.2" fill="#000" letter-spacing="0.124" xml:space="preserve">Pressure </text>
<text x="560.89" y="154.91" font-size="24.2" fill="#000">=</text>
<text x="575.15" y="152.20" font-size="24.2" fill="#000" letter-spacing="0.124" xml:space="preserve"> 2.4e-3 mbar</text>
<text x="456.22" y="179.50" font-size="24.2" fill="#000" letter-spacing="0.170" xml:space="preserve">Decay rate </text>
<text x="581.83" y="182.21" font-size="24.2" fill="#000">=</text>
<text x="596.13" y="179.50" font-size="24.2" fill="#000" letter-spacing="0.170" xml:space="preserve"> 3.2 ± 0.4 Hz</text>
<rect x="91.6" y="322" width="653.3" height="68.8" fill="#000"/>
<g clip-path="url(#cs)">
<rect x="93.86" y="341.40" width="5.40" height="32.60" rx="2.2" fill="url(#gb)" opacity="0.16" filter="url(#b2)"/>
<polyline points="96.56,342.20 97.03,342.97 97.49,343.75 97.89,344.52 98.22,345.30 98.47,346.07 98.61,346.85 98.65,347.62 98.58,348.40 98.40,349.18 98.12,349.95 97.77,350.72 97.35,351.50 96.89,352.27 96.45,353.05 96.11,353.82 95.78,354.60 95.47,355.38 95.17,356.15 94.90,356.93 94.66,357.70 94.45,358.47 94.28,359.25 94.15,360.02 94.06,360.80 94.01,361.57 94.02,362.35 94.06,363.12 94.15,363.90 94.28,364.68 94.46,365.45 94.67,366.22 94.91,367.00 95.18,367.77 95.48,368.55 95.80,369.32 96.13,370.10 96.46,370.88 97.29,371.65 98.19,372.43 98.83,373.20" fill="none" stroke="url(#gs)" stroke-opacity="0.44" stroke-width="1.6" stroke-linecap="round" stroke-linejoin="round" filter="url(#b3)"/>
<polyline points="96.56,342.20 96.08,342.97 95.63,343.75 95.23,344.52 94.90,345.30 94.65,346.07 94.51,346.85 94.47,347.62 94.54,348.40 94.72,349.18 94.99,349.95 95.35,350.72 95.77,351.50 96.23,352.27 96.67,353.05 97.00,353.82 97.33,354.60 97.65,355.38 97.95,356.15 98.22,356.93 98.46,357.70 98.67,358.47 98.84,359.25 98.97,360.02 99.06,360.80 99.10,361.57 99.10,362.35 99.06,363.12 98.97,363.90 98.83,364.68 98.66,365.45 98.45,366.22 98.21,367.00 97.94,367.77 97.64,368.55 97.32,369.32 96.99,370.10 96.66,370.88 95.83,371.65 94.93,372.43 94.29,373.20" fill="none" stroke="url(#gs)" stroke-opacity="0.63" stroke-width="1.6" stroke-linecap="round" stroke-linejoin="round" filter="url(#b3)"/>
<ellipse cx="95.26" cy="347.74" rx="1.0" ry="5.16" fill="#fff" fill-opacity="0.42" filter="url(#b1)"/>
<rect x="104.07" y="341.88" width="5.32" height="31.64" rx="2.2" fill="url(#gb)" opacity="0.17" filter="url(#b2)"/>
<polyline points="106.73,342.68 107.16,343.43 107.56,344.18 107.94,344.93 108.25,345.68 108.51,346.44 108.68,347.19 108.76,347.94 108.76,348.69 108.67,349.44 108.49,350.19 108.23,350.94 107.91,351.69 107.53,352.44 107.12,353.19 106.70,353.94 106.33,354.70 105.98,355.45 105.64,356.20 105.32,356.95 105.04,357.70 104.79,358.45 104.58,359.20 104.42,359.95 104.30,360.70 104.24,361.45 104.24,362.21 104.28,362.96 104.38,363.71 104.53,364.46 104.72,365.21 104.96,365.96 105.24,366.71 105.55,367.46 105.88,368.21 106.23,368.97 106.59,369.72 107.20,370.47 107.91,371.22 108.51,371.97 108.95,372.72" fill="none" stroke="url(#gs)" stroke-opacity="0.44" stroke-width="1.6" stroke-linecap="round" stroke-linejoin="round" filter="url(#b3)"/>
<polyline points="106.73,342.68 106.30,343.43 105.89,344.18 105.52,344.93 105.20,345.68 104.95,346.44 104.78,347.19 104.69,347.94 104.70,348.69 104.79,349.44 104.97,350.19 105.23,350.94 105.55,351.69 105.92,352.44 106.34,353.19 106.76,353.94 107.12,354.70 107.48,355.45 107.82,356.20 108.13,356.95 108.42,357.70 108.67,358.45 108.88,359.20 109.04,359.95 109.15,360.70 109.21,361.45 109.22,362.21 109.17,362.96 109.08,363.71 108.93,364.46 108.73,365.21 108.49,365.96 108.22,366.71 107.91,367.46 107.58,368.21 107.23,368.97 106.86,369.72 106.25,370.47 105.55,371.22 104.94,371.97 104.50,372.72" fill="none" stroke="url(#gs)" stroke-opacity="0.63" stroke-width="1.6" stroke-linecap="round" stroke-linejoin="round" filter="url(#b3)"/>
<ellipse cx="105.43" cy="348.06" rx="1.0" ry="5.03" fill="#fff" fill-opacity="0.45" filter="url(#b1)"/>
<rect x="114.47" y="342.36" width="5.24" height="30.68" rx="2.2" fill="url(#gb)" opacity="0.18" filter="url(#b2)"/>
<polyline points="117.09,343.16 117.51,343.89 117.91,344.61 118.27,345.34 118.59,346.07 118.83,346.80 119.00,347.52 119.08,348.25 119.07,348.98 118.97,349.70 118.79,350.43 118.54,351.16 118.21,351.88 117.84,352.61 117.43,353.34 117.02,354.06 116.65,354.79 116.29,355.52 115.94,356.25 115.63,356.97 115.35,357.70 115.11,358.43 114.91,359.15 114.77,359.88 114.68,360.61 114.65,361.34 114.67,362.06 114.75,362.79 114.89,363.52 115.08,364.24 115.31,364.97 115.59,365.70 115.90,366.42 116.24,367.15 116.60,367.88 116.97,368.61 117.47,369.33 118.02,370.06 118.52,370.79 118.94,371.51 119.26,372.24" fill="none" stroke="url(#gs)" stroke-opacity="0.44" stroke-width="1.6" stroke-linecap="round" stroke-linejoin="round" filter="url(#b3)"/>
<polyline points="117.09,343.16 116.67,343.89 116.26,344.61 115.90,345.34 115.59,346.07 115.34,346.80 115.17,347.52 115.09,348.25 115.10,348.98 115.20,349.70 115.38,350.43 115.64,351.16 115.96,351.88 116.33,352.61 116.74,353.34 117.15,354.06 117.52,354.79 117.89,355.52 118.23,356.25 118.54,356.97 118.83,357.70 119.07,358.43 119.26,359.15 119.40,359.88 119.49,360.61 119.53,361.34 119.50,362.06 119.42,362.79 119.28,363.52 119.10,364.24 118.86,364.97 118.59,365.70 118.28,366.42 117.94,367.15 117.58,367.88 117.21,368.61 116.70,369.33 116.15,370.06 115.65,370.79 115.23,371.51 114.91,372.24" fill="none" stroke="url(#gs)" stroke-opacity="0.63" stroke-width="1.6" stroke-linecap="round" stroke-linejoin="round" filter="url(#b3)"/>
<ellipse cx="115.79" cy="348.38" rx="1.0" ry="4.90" fill="#fff" fill-opacity="0.49" filter="url(#b1)"/>
<rect x="125.18" y="342.84" width="5.16" height="29.72" rx="2.2" fill="url(#gb)" opacity="0.19" filter="url(#b2)"/>
<polyline points="127.76,343.64 128.21,344.34 128.64,345.05 129.02,345.75 129.33,346.45 129.56,347.15 129.69,347.86 129.71,348.56 129.62,349.26 129.44,349.97 129.16,350.67 128.81,351.37 128.40,352.08 127.95,352.78 127.56,353.48 127.23,354.19 126.90,354.89 126.59,355.59 126.31,356.29 126.06,357.00 125.84,357.70 125.65,358.40 125.52,359.11 125.42,359.81 125.38,360.51 125.38,361.21 125.43,361.92 125.53,362.62 125.67,363.32 125.85,364.03 126.08,364.73 126.33,365.43 126.62,366.14 126.93,366.84 127.25,367.54 127.59,368.25 128.05,368.95 128.62,369.65 129.13,370.35 129.56,371.06 129.88,371.76" fill="none" stroke="url(#gs)" stroke-opacity="0.44" stroke-width="1.6" stroke-linecap="round" stroke-linejoin="round" filter="url(#b3)"/>
<polyline points="127.76,343.64 127.30,344.34 126.87,345.05 126.49,345.75 126.18,346.45 125.96,347.15 125.83,347.86 125.81,348.56 125.89,349.26 126.08,349.97 126.35,350.67 126.71,351.37 127.12,352.08 127.56,352.78 127.95,353.48 128.29,354.19 128.61,354.89 128.92,355.59 129.20,356.29 129.46,357.00 129.68,357.70 129.86,358.40 130.00,359.11 130.09,359.81 130.14,360.51 130.13,361.21 130.08,361.92 129.99,362.62 129.84,363.32 129.66,364.03 129.44,364.73 129.18,365.43 128.89,366.14 128.58,366.84 128.26,367.54 127.92,368.25 127.46,368.95 126.90,369.65 126.39,370.35 125.96,371.06 125.63,371.76" fill="none" stroke="url(#gs)" stroke-opacity="0.63" stroke-width="1.6" stroke-linecap="round" stroke-linejoin="round" filter="url(#b3)"/>
<ellipse cx="126.46" cy="348.69" rx="1.0" ry="4.76" fill="#fff" fill-opacity="0.53" filter="url(#b1)"/>
<rect x="135.58" y="343.32" width="5.08" height="28.76" rx="2.2" fill="url(#gb)" opacity="0.20" filter="url(#b2)"/>
<polyline points="138.12,344.12 138.50,344.80 138.86,345.48 139.19,346.16 139.48,346.84 139.72,347.51 139.89,348.19 140.00,348.87 140.03,349.55 139.99,350.23 139.87,350.91 139.69,351.59 139.44,352.27 139.14,352.95 138.80,353.63 138.44,354.31 138.06,354.98 137.69,355.66 137.34,356.34 137.00,357.02 136.69,357.70 136.42,358.38 136.19,359.06 136.00,359.74 135.88,360.42 135.80,361.10 135.79,361.77 135.84,362.45 135.94,363.13 136.10,363.81 136.31,364.49 136.56,365.17 136.86,365.85 137.18,366.53 137.53,367.21 137.90,367.88 138.35,368.56 138.92,369.24 139.44,369.92 139.87,370.60 140.20,371.28" fill="none" stroke="url(#gs)" stroke-opacity="0.44" stroke-width="1.6" stroke-linecap="round" stroke-linejoin="round" filter="url(#b3)"/>
<polyline points="138.12,344.12 137.74,344.80 137.38,345.48 137.05,346.16 136.76,346.84 136.52,347.51 136.35,348.19 136.24,348.87 136.21,349.55 136.25,350.23 136.37,350.91 136.55,351.59 136.80,352.27 137.10,352.95 137.44,353.63 137.80,354.31 138.18,354.98 138.54,355.66 138.90,356.34 139.24,357.02 139.55,357.70 139.82,358.38 140.05,359.06 140.23,359.74 140.36,360.42 140.43,361.10 140.45,361.77 140.40,362.45 140.30,363.13 140.14,363.81 139.93,364.49 139.68,365.17 139.38,365.85 139.05,366.53 138.70,367.21 138.34,367.88 137.89,368.56 137.32,369.24 136.80,369.92 136.37,370.60 136.04,371.28" fill="none" stroke="url(#gs)" stroke-opacity="0.63" stroke-width="1.6" stroke-linecap="round" stroke-linejoin="round" filter="url(#b3)"/>
<ellipse cx="136.82" cy="349.01" rx="1.0" ry="4.63" fill="#fff" fill-opacity="0.56" filter="url(#b1)"/>
<rect x="145.83" y="343.80" width="5.00" height="27.80" rx="2.2" fill="url(#gb)" opacity="0.21" filter="url(#b2)"/>
<polyline points="148.33,344.60 148.71,345.25 149.08,345.91 149.41,346.56 149.70,347.22 149.93,347.88 150.09,348.53 150.18,349.19 150.19,349.84 150.12,350.50 149.97,351.15 149.75,351.81 149.48,352.46 149.15,353.12 148.79,353.77 148.41,354.43 148.08,355.08 147.78,355.74 147.48,356.39 147.20,357.05 146.94,357.70 146.71,358.36 146.51,359.01 146.34,359.67 146.21,360.32 146.12,360.98 146.06,361.63 146.06,362.29 146.09,362.94 146.16,363.60 146.28,364.25 146.43,364.91 146.62,365.56 146.84,366.22 147.09,366.87 147.36,367.53 147.65,368.18 147.95,368.84 148.26,369.49 149.37,370.15 150.36,370.80" fill="none" stroke="url(#gs)" stroke-opacity="0.44" stroke-width="1.6" stroke-linecap="round" stroke-linejoin="round" filter="url(#b3)"/>
<polyline points="148.33,344.60 147.95,345.25 147.58,345.91 147.25,346.56 146.96,347.22 146.73,347.88 146.56,348.53 146.48,349.19 146.47,349.84 146.54,350.50 146.69,351.15 146.90,351.81 147.18,352.46 147.51,353.12 147.87,353.77 148.25,354.43 148.57,355.08 148.88,355.74 149.17,356.39 149.45,357.05 149.71,357.70 149.95,358.36 150.15,359.01 150.32,359.67 150.45,360.32 150.54,360.98 150.59,361.63 150.60,362.29 150.57,362.94 150.49,363.60 150.38,364.25 150.23,364.91 150.04,365.56 149.82,366.22 149.57,366.87 149.30,367.53 149.01,368.18 148.71,368.84 148.40,369.49 147.28,370.15 146.30,370.80" fill="none" stroke="url(#gs)" stroke-opacity="0.63" stroke-width="1.6" stroke-linecap="round" stroke-linejoin="round" filter="url(#b3)"/>
<ellipse cx="147.03" cy="349.33" rx="1.0" ry="4.49" fill="#fff" fill-opacity="0.59" filter="url(#b1)"/>
<rect x="156.52" y="344.28" width="4.92" height="26.84" rx="2.2" fill="url(#gb)" opacity="0.22" filter="url(#b2)"/>
<polyline points="158.98,345.08 159.37,345.71 159.75,346.34 160.09,346.97 160.37,347.60 160.59,348.23 160.74,348.87 160.80,349.50 160.78,350.13 160.67,350.76 160.48,351.39 160.23,352.02 159.91,352.65 159.55,353.28 159.17,353.91 158.83,354.54 158.54,355.18 158.26,355.81 157.99,356.44 157.73,357.07 157.50,357.70 157.30,358.33 157.12,358.96 156.98,359.59 156.87,360.22 156.80,360.85 156.76,361.49 156.77,362.12 156.81,362.75 156.89,363.38 157.01,364.01 157.16,364.64 157.34,365.27 157.55,365.90 157.78,366.53 158.04,367.16 158.31,367.80 158.60,368.43 158.89,369.06 159.93,369.69 160.96,370.32" fill="none" stroke="url(#gs)" stroke-opacity="0.44" stroke-width="1.6" stroke-linecap="round" stroke-linejoin="round" filter="url(#b3)"/>
<polyline points="158.98,345.08 158.59,345.71 158.22,346.34 157.88,346.97 157.59,347.60 157.37,348.23 157.23,348.87 157.16,349.50 157.19,350.13 157.29,350.76 157.48,351.39 157.74,352.02 158.05,352.65 158.41,353.28 158.80,353.91 159.14,354.54 159.43,355.18 159.71,355.81 159.98,356.44 160.23,357.07 160.46,357.70 160.66,358.33 160.84,358.96 160.98,359.59 161.09,360.22 161.16,360.85 161.20,361.49 161.19,362.12 161.15,362.75 161.07,363.38 160.96,364.01 160.81,364.64 160.62,365.27 160.41,365.90 160.18,366.53 159.92,367.16 159.65,367.80 159.37,368.43 159.08,369.06 158.03,369.69 157.00,370.32" fill="none" stroke="url(#gs)" stroke-opacity="0.63" stroke-width="1.6" stroke-linecap="round" stroke-linejoin="round" filter="url(#b3)"/>
<ellipse cx="157.68" cy="349.64" rx="1.0" ry="4.36" fill="#fff" fill-opacity="0.63" filter="url(#b1)"/>
<rect x="166.51" y="344.76" width="4.84" height="25.88" rx="2.2" fill="url(#gb)" opacity="0.23" filter="url(#b2)"/>
<polyline points="168.93,345.56 169.27,346.17 169.61,346.77 169.92,347.38 170.19,347.99 170.41,348.60 170.57,349.20 170.67,349.81 170.70,350.42 170.67,351.02 170.56,351.63 170.40,352.24 170.17,352.84 169.90,353.45 169.59,354.06 169.26,354.67 168.91,355.27 168.57,355.88 168.25,356.49 167.94,357.09 167.65,357.70 167.39,358.31 167.18,358.91 167.00,359.52 166.87,360.13 166.79,360.74 166.76,361.34 166.79,361.95 166.86,362.56 166.99,363.16 167.16,363.77 167.38,364.38 167.63,364.98 167.91,365.59 168.22,366.20 168.55,366.81 168.88,367.41 169.46,368.02 170.03,368.63 170.50,369.23 170.86,369.84" fill="none" stroke="url(#gs)" stroke-opacity="0.44" stroke-width="1.6" stroke-linecap="round" stroke-linejoin="round" filter="url(#b3)"/>
<polyline points="168.93,345.56 168.58,346.17 168.25,346.77 167.94,347.38 167.67,347.99 167.45,348.60 167.28,349.20 167.18,349.81 167.15,350.42 167.19,351.02 167.29,351.63 167.46,352.24 167.68,352.84 167.95,353.45 168.26,354.06 168.60,354.67 168.95,355.27 169.28,355.88 169.61,356.49 169.92,357.09 170.20,357.70 170.46,358.31 170.68,358.91 170.85,359.52 170.98,360.13 171.06,360.74 171.09,361.34 171.07,361.95 170.99,362.56 170.87,363.16 170.69,363.77 170.48,364.38 170.22,364.98 169.94,365.59 169.63,366.20 169.31,366.81 168.97,367.41 168.40,368.02 167.83,368.63 167.35,369.23 167.00,369.84" fill="none" stroke="url(#gs)" stroke-opacity="0.63" stroke-width="1.6" stroke-linecap="round" stroke-linejoin="round" filter="url(#b3)"/>
<ellipse cx="167.63" cy="349.96" rx="1.0" ry="4.22" fill="#fff" fill-opacity="0.67" filter="url(#b1)"/>
<rect x="177.00" y="345.24" width="4.76" height="24.92" rx="2.2" fill="url(#gb)" opacity="0.24" filter="url(#b2)"/>
<polyline points="179.38,346.04 179.77,346.62 180.15,347.21 180.48,347.79 180.76,348.37 180.96,348.96 181.08,349.54 181.10,350.12 181.04,350.70 180.88,351.29 180.65,351.87 180.35,352.45 179.99,353.04 179.61,353.62 179.25,354.20 178.96,354.79 178.68,355.37 178.41,355.95 178.16,356.53 177.93,357.12 177.73,357.70 177.56,358.28 177.43,358.87 177.34,359.45 177.28,360.03 177.27,360.62 177.29,361.20 177.36,361.78 177.46,362.36 177.60,362.95 177.78,363.53 177.98,364.11 178.22,364.70 178.47,365.28 178.74,365.86 179.03,366.45 179.32,367.03 179.87,367.61 180.43,368.19 180.91,368.78 181.26,369.36" fill="none" stroke="url(#gs)" stroke-opacity="0.43" stroke-width="1.6" stroke-linecap="round" stroke-linejoin="round" filter="url(#b3)"/>
<polyline points="179.38,346.04 178.98,346.62 178.60,347.21 178.27,347.79 177.99,348.37 177.79,348.96 177.67,349.54 177.65,350.12 177.71,350.70 177.87,351.29 178.10,351.87 178.40,352.45 178.76,353.04 179.15,353.62 179.50,354.20 179.79,354.79 180.07,355.37 180.34,355.95 180.59,356.53 180.82,357.12 181.02,357.70 181.19,358.28 181.32,358.87 181.41,359.45 181.47,360.03 181.49,360.62 181.46,361.20 181.39,361.78 181.29,362.36 181.15,362.95 180.97,363.53 180.77,364.11 180.53,364.70 180.28,365.28 180.01,365.86 179.72,366.45 179.43,367.03 178.89,367.61 178.32,368.19 177.85,368.78 177.50,369.36" fill="none" stroke="url(#gs)" stroke-opacity="0.62" stroke-width="1.6" stroke-linecap="round" stroke-linejoin="round" filter="url(#b3)"/>
<ellipse cx="178.08" cy="350.28" rx="1.0" ry="4.09" fill="#fff" fill-opacity="0.70" filter="url(#b1)"/>
<rect x="187.94" y="345.72" width="4.68" height="23.96" rx="2.2" fill="url(#gb)" opacity="0.25" filter="url(#b2)"/>
<polyline points="190.28,346.52 190.66,347.08 191.02,347.64 191.35,348.20 191.62,348.76 191.81,349.31 191.93,349.87 191.97,350.43 191.91,350.99 191.78,351.55 191.56,352.11 191.28,352.67 190.95,353.23 190.58,353.79 190.22,354.35 189.95,354.90 189.68,355.46 189.42,356.02 189.17,356.58 188.95,357.14 188.75,357.70 188.58,358.26 188.44,358.82 188.34,359.38 188.27,359.94 188.23,360.50 188.23,361.05 188.27,361.61 188.35,362.17 188.46,362.73 188.61,363.29 188.78,363.85 188.99,364.41 189.21,364.97 189.46,365.53 189.72,366.08 189.99,366.64 190.27,367.20 190.99,367.76 191.65,368.32 192.11,368.88" fill="none" stroke="url(#gs)" stroke-opacity="0.43" stroke-width="1.6" stroke-linecap="round" stroke-linejoin="round" filter="url(#b3)"/>
<polyline points="190.28,346.52 189.90,347.08 189.54,347.64 189.22,348.20 188.95,348.76 188.75,349.31 188.63,349.87 188.60,350.43 188.65,350.99 188.79,351.55 189.00,352.11 189.29,352.67 189.62,353.23 189.99,353.79 190.34,354.35 190.62,354.90 190.89,355.46 191.15,356.02 191.39,356.58 191.61,357.14 191.81,357.70 191.98,358.26 192.12,358.82 192.23,359.38 192.30,359.94 192.33,360.50 192.33,361.05 192.29,361.61 192.21,362.17 192.10,362.73 191.96,363.29 191.78,363.85 191.58,364.41 191.35,364.97 191.11,365.53 190.85,366.08 190.58,366.64 190.30,367.20 189.58,367.76 188.92,368.32 188.45,368.88" fill="none" stroke="url(#gs)" stroke-opacity="0.62" stroke-width="1.6" stroke-linecap="round" stroke-linejoin="round" filter="url(#b3)"/>
<ellipse cx="188.98" cy="350.59" rx="1.0" ry="3.95" fill="#fff" fill-opacity="0.74" filter="url(#b1)"/>
<rect x="198.21" y="346.20" width="4.60" height="23.00" rx="2.2" fill="url(#gb)" opacity="0.26" filter="url(#b2)"/>
<polyline points="200.51,347.00 200.87,347.54 201.20,348.07 201.51,348.61 201.77,349.14 201.97,349.68 202.10,350.21 202.15,350.75 202.13,351.28 202.03,351.81 201.85,352.35 201.62,352.88 201.33,353.42 201.00,353.95 200.65,354.49 200.34,355.02 200.07,355.56 199.80,356.10 199.55,356.63 199.31,357.17 199.10,357.70 198.92,358.24 198.77,358.77 198.65,359.31 198.57,359.84 198.52,360.38 198.51,360.91 198.55,361.44 198.62,361.98 198.72,362.51 198.86,363.05 199.04,363.58 199.24,364.12 199.47,364.65 199.71,365.19 199.97,365.73 200.25,366.26 200.55,366.80 201.25,367.33 201.86,367.87 202.29,368.40" fill="none" stroke="url(#gs)" stroke-opacity="0.43" stroke-width="1.6" stroke-linecap="round" stroke-linejoin="round" filter="url(#b3)"/>
<polyline points="200.51,347.00 200.16,347.54 199.82,348.07 199.51,348.61 199.25,349.14 199.06,349.68 198.93,350.21 198.87,350.75 198.90,351.28 199.00,351.81 199.17,352.35 199.40,352.88 199.69,353.42 200.02,353.95 200.37,354.49 200.68,355.02 200.96,355.56 201.22,356.10 201.47,356.63 201.71,357.17 201.92,357.70 202.10,358.24 202.26,358.77 202.37,359.31 202.46,359.84 202.50,360.38 202.51,360.91 202.48,361.44 202.41,361.98 202.30,362.51 202.16,363.05 201.99,363.58 201.78,364.12 201.56,364.65 201.31,365.19 201.05,365.73 200.78,366.26 200.48,366.80 199.77,367.33 199.16,367.87 198.73,368.40" fill="none" stroke="url(#gs)" stroke-opacity="0.62" stroke-width="1.6" stroke-linecap="round" stroke-linejoin="round" filter="url(#b3)"/>
<ellipse cx="199.21" cy="350.91" rx="1.0" ry="3.82" fill="#fff" fill-opacity="0.77" filter="url(#b1)"/>
<rect x="208.16" y="346.70" width="4.52" height="22.00" rx="2.2" fill="url(#gb)" opacity="0.27" filter="url(#b2)"/>
<polyline points="210.42,347.50 210.79,348.01 211.14,348.52 211.45,349.03 211.71,349.54 211.89,350.05 211.99,350.56 212.01,351.07 211.94,351.58 211.79,352.09 211.56,352.60 211.27,353.11 210.93,353.62 210.57,354.13 210.25,354.64 209.99,355.15 209.73,355.66 209.48,356.17 209.25,356.68 209.05,357.19 208.87,357.70 208.72,358.21 208.60,358.72 208.53,359.23 208.48,359.74 208.48,360.25 208.51,360.76 208.58,361.27 208.69,361.78 208.83,362.29 209.00,362.80 209.20,363.31 209.42,363.82 209.66,364.33 209.92,364.84 210.19,365.35 210.49,365.86 211.00,366.37 211.47,366.88 211.86,367.39 212.15,367.90" fill="none" stroke="url(#gs)" stroke-opacity="0.43" stroke-width="1.6" stroke-linecap="round" stroke-linejoin="round" filter="url(#b3)"/>
<polyline points="210.42,347.50 210.05,348.01 209.70,348.52 209.39,349.03 209.13,349.54 208.95,350.05 208.85,350.56 208.83,351.07 208.90,351.58 209.05,352.09 209.28,352.60 209.57,353.11 209.91,353.62 210.27,354.13 210.59,354.64 210.85,355.15 211.11,355.66 211.36,356.17 211.59,356.68 211.79,357.19 211.97,357.70 212.12,358.21 212.24,358.72 212.32,359.23 212.36,359.74 212.36,360.25 212.33,360.76 212.26,361.27 212.15,361.78 212.01,362.29 211.84,362.80 211.64,363.31 211.42,363.82 211.18,364.33 210.92,364.84 210.65,365.35 210.35,365.86 209.84,366.37 209.37,366.88 208.98,367.39 208.69,367.90" fill="none" stroke="url(#gs)" stroke-opacity="0.61" stroke-width="1.6" stroke-linecap="round" stroke-linejoin="round" filter="url(#b3)"/>
<ellipse cx="209.12" cy="351.24" rx="1.0" ry="3.68" fill="#fff" fill-opacity="0.80" filter="url(#b1)"/>
<rect x="219.06" y="347.20" width="4.44" height="21.00" rx="2.2" fill="url(#gb)" opacity="0.28" filter="url(#b2)"/>
<polyline points="221.28,348.00 221.62,348.49 221.93,348.97 222.22,349.45 222.46,349.94 222.65,350.43 222.78,350.91 222.83,351.39 222.82,351.88 222.73,352.37 222.58,352.85 222.36,353.33 222.10,353.82 221.80,354.31 221.47,354.79 221.17,355.27 220.89,355.76 220.63,356.25 220.38,356.73 220.15,357.21 219.94,357.70 219.76,358.19 219.62,358.67 219.51,359.15 219.43,359.64 219.40,360.12 219.40,360.61 219.45,361.10 219.53,361.58 219.65,362.06 219.80,362.55 219.99,363.04 220.20,363.52 220.44,364.00 220.69,364.49 220.96,364.98 221.23,365.46 221.72,365.94 222.22,366.43 222.65,366.92 222.97,367.40" fill="none" stroke="url(#gs)" stroke-opacity="0.42" stroke-width="1.6" stroke-linecap="round" stroke-linejoin="round" filter="url(#b3)"/>
<polyline points="221.28,348.00 220.95,348.49 220.64,348.97 220.35,349.45 220.11,349.94 219.92,350.43 219.79,350.91 219.74,351.39 219.75,351.88 219.84,352.37 219.99,352.85 220.21,353.33 220.47,353.82 220.77,354.31 221.09,354.79 221.40,355.27 221.67,355.76 221.94,356.25 222.19,356.73 222.42,357.21 222.63,357.70 222.80,358.19 222.95,358.67 223.06,359.15 223.14,359.64 223.17,360.12 223.17,360.61 223.12,361.10 223.04,361.58 222.92,362.06 222.77,362.55 222.58,363.04 222.37,363.52 222.13,364.00 221.88,364.49 221.61,364.98 221.34,365.46 220.85,365.94 220.35,366.43 219.92,366.92 219.60,367.40" fill="none" stroke="url(#gs)" stroke-opacity="0.61" stroke-width="1.6" stroke-linecap="round" stroke-linejoin="round" filter="url(#b3)"/>
<ellipse cx="219.98" cy="351.57" rx="1.0" ry="3.54" fill="#fff" fill-opacity="0.84" filter="url(#b1)"/>
<rect x="219.89" y="347.50" width="3.7" height="20.40" rx="1.9" fill="#fff" fill-opacity="0.08" filter="url(#b2)"/>
<rect x="229.40" y="347.70" width="4.36" height="20.00" rx="2.2" fill="url(#gb)" opacity="0.29" filter="url(#b2)"/>
<polyline points="231.58,348.50 231.90,348.96 232.20,349.42 232.48,349.88 232.72,350.34 232.90,350.80 233.02,351.26 233.08,351.72 233.07,352.18 232.99,352.64 232.84,353.10 232.64,353.56 232.39,354.02 232.10,354.48 231.79,354.94 231.48,355.40 231.22,355.86 230.96,356.32 230.72,356.78 230.49,357.24 230.29,357.70 230.11,358.16 229.97,358.62 229.86,359.08 229.78,359.54 229.75,360.00 229.75,360.46 229.79,360.92 229.87,361.38 229.99,361.84 230.14,362.30 230.32,362.76 230.53,363.22 230.76,363.68 231.01,364.14 231.27,364.60 231.54,365.06 232.02,365.52 232.50,365.98 232.91,366.44 233.21,366.90" fill="none" stroke="url(#gs)" stroke-opacity="0.42" stroke-width="1.6" stroke-linecap="round" stroke-linejoin="round" filter="url(#b3)"/>
<polyline points="231.58,348.50 231.26,348.96 230.95,349.42 230.68,349.88 230.44,350.34 230.26,350.80 230.13,351.26 230.08,351.72 230.09,352.18 230.17,352.64 230.31,353.10 230.52,353.56 230.77,354.02 231.06,354.48 231.37,354.94 231.67,355.40 231.94,355.86 232.20,356.32 232.44,356.78 232.67,357.24 232.87,357.70 233.05,358.16 233.19,358.62 233.30,359.08 233.37,359.54 233.41,360.00 233.41,360.46 233.36,360.92 233.28,361.38 233.17,361.84 233.02,362.30 232.83,362.76 232.63,363.22 232.40,363.68 232.15,364.14 231.89,364.60 231.62,365.06 231.14,365.52 230.66,365.98 230.25,366.44 229.94,366.90" fill="none" stroke="url(#gs)" stroke-opacity="0.61" stroke-width="1.6" stroke-linecap="round" stroke-linejoin="round" filter="url(#b3)"/>
<ellipse cx="230.28" cy="351.90" rx="1.0" ry="3.40" fill="#fff" fill-opacity="0.88" filter="url(#b1)"/>
<rect x="230.26" y="348.00" width="3.7" height="19.40" rx="1.9" fill="#fff" fill-opacity="0.15" filter="url(#b2)"/>
<rect x="239.98" y="348.20" width="4.28" height="19.00" rx="2.2" fill="url(#gb)" opacity="0.30" filter="url(#b2)"/>
<polyline points="242.12,349.00 242.41,349.44 242.69,349.87 242.95,350.31 243.18,350.74 243.36,351.18 243.49,351.61 243.56,352.05 243.57,352.48 243.53,352.92 243.42,353.35 243.26,353.79 243.06,354.22 242.81,354.65 242.54,355.09 242.25,355.52 241.96,355.96 241.69,356.39 241.44,356.83 241.19,357.26 240.97,357.70 240.78,358.13 240.61,358.57 240.49,359.00 240.40,359.44 240.35,359.88 240.34,360.31 240.37,360.75 240.44,361.18 240.56,361.62 240.71,362.05 240.89,362.49 241.10,362.92 241.33,363.36 241.58,363.79 241.85,364.23 242.12,364.66 242.61,365.10 243.05,365.53 243.42,365.96 243.70,366.40" fill="none" stroke="url(#gs)" stroke-opacity="0.42" stroke-width="1.6" stroke-linecap="round" stroke-linejoin="round" filter="url(#b3)"/>
<polyline points="242.12,349.00 241.82,349.44 241.54,349.87 241.28,350.31 241.05,350.74 240.87,351.18 240.74,351.61 240.67,352.05 240.66,352.48 240.71,352.92 240.81,353.35 240.97,353.79 241.18,354.22 241.42,354.65 241.69,355.09 241.99,355.52 242.27,355.96 242.54,356.39 242.80,356.83 243.04,357.26 243.26,357.70 243.45,358.13 243.62,358.57 243.74,359.00 243.84,359.44 243.89,359.88 243.89,360.31 243.86,360.75 243.79,361.18 243.67,361.62 243.53,362.05 243.34,362.49 243.13,362.92 242.90,363.36 242.65,363.79 242.38,364.23 242.11,364.66 241.63,365.10 241.18,365.53 240.81,365.96 240.53,366.40" fill="none" stroke="url(#gs)" stroke-opacity="0.60" stroke-width="1.6" stroke-linecap="round" stroke-linejoin="round" filter="url(#b3)"/>
<ellipse cx="240.82" cy="352.23" rx="1.0" ry="3.26" fill="#fff" fill-opacity="0.91" filter="url(#b1)"/>
<rect x="240.63" y="348.50" width="3.7" height="18.40" rx="1.9" fill="#fff" fill-opacity="0.23" filter="url(#b2)"/>
<rect x="250.21" y="348.70" width="4.20" height="18.00" rx="2.2" fill="url(#gb)" opacity="0.31" filter="url(#b2)"/>
<polyline points="252.31,349.50 252.61,349.91 252.89,350.32 253.15,350.73 253.37,351.14 253.54,351.55 253.66,351.96 253.72,352.37 253.71,352.78 253.65,353.19 253.52,353.60 253.34,354.01 253.12,354.42 252.86,354.83 252.57,355.24 252.28,355.65 252.05,356.06 251.82,356.47 251.60,356.88 251.39,357.29 251.20,357.70 251.03,358.11 250.89,358.52 250.77,358.93 250.68,359.34 250.62,359.75 250.59,360.16 250.59,360.57 250.62,360.98 250.69,361.39 250.78,361.80 250.91,362.21 251.05,362.62 251.23,363.03 251.42,363.44 251.63,363.85 251.85,364.26 252.08,364.67 252.31,365.08 253.21,365.49 253.85,365.90" fill="none" stroke="url(#gs)" stroke-opacity="0.41" stroke-width="1.6" stroke-linecap="round" stroke-linejoin="round" filter="url(#b3)"/>
<polyline points="252.31,349.50 252.01,349.91 251.73,350.32 251.47,350.73 251.25,351.14 251.08,351.55 250.96,351.96 250.90,352.37 250.90,352.78 250.97,353.19 251.10,353.60 251.28,354.01 251.50,354.42 251.76,354.83 252.05,355.24 252.34,355.65 252.57,356.06 252.80,356.47 253.02,356.88 253.23,357.29 253.42,357.70 253.58,358.11 253.73,358.52 253.85,358.93 253.94,359.34 254.00,359.75 254.03,360.16 254.03,360.57 254.00,360.98 253.93,361.39 253.84,361.80 253.71,362.21 253.57,362.62 253.39,363.03 253.20,363.44 252.99,363.85 252.77,364.26 252.54,364.67 252.31,365.08 251.41,365.49 250.77,365.90" fill="none" stroke="url(#gs)" stroke-opacity="0.59" stroke-width="1.6" stroke-linecap="round" stroke-linejoin="round" filter="url(#b3)"/>
<ellipse cx="251.01" cy="352.56" rx="1.0" ry="3.12" fill="#fff" fill-opacity="0.95" filter="url(#b1)"/>
<rect x="251.00" y="349.00" width="3.7" height="17.40" rx="1.9" fill="#fff" fill-opacity="0.30" filter="url(#b2)"/>
<rect x="260.74" y="349.20" width="4.12" height="17.00" rx="2.2" fill="url(#gb)" opacity="0.32" filter="url(#b2)"/>
<polyline points="262.80,350.00 263.11,350.38 263.39,350.77 263.65,351.15 263.87,351.54 264.03,351.93 264.14,352.31 264.17,352.69 264.14,353.08 264.05,353.46 263.89,353.85 263.68,354.24 263.43,354.62 263.14,355.00 262.84,355.39 262.61,355.77 262.40,356.16 262.19,356.55 262.00,356.93 261.82,357.31 261.65,357.70 261.50,358.08 261.38,358.47 261.28,358.86 261.20,359.24 261.15,359.62 261.13,360.01 261.14,360.39 261.18,360.78 261.24,361.17 261.33,361.55 261.44,361.94 261.58,362.32 261.74,362.70 261.91,363.09 262.10,363.48 262.31,363.86 262.52,364.25 262.73,364.63 263.51,365.01 264.29,365.40" fill="none" stroke="url(#gs)" stroke-opacity="0.41" stroke-width="1.6" stroke-linecap="round" stroke-linejoin="round" filter="url(#b3)"/>
<polyline points="262.80,350.00 262.50,350.38 262.21,350.77 261.96,351.15 261.74,351.54 261.58,351.93 261.47,352.31 261.43,352.69 261.46,353.08 261.56,353.46 261.72,353.85 261.93,354.24 262.18,354.62 262.47,355.00 262.77,355.39 262.99,355.77 263.21,356.16 263.41,356.55 263.61,356.93 263.79,357.31 263.96,357.70 264.10,358.08 264.23,358.47 264.33,358.86 264.40,359.24 264.45,359.62 264.47,360.01 264.47,360.39 264.43,360.78 264.37,361.17 264.28,361.55 264.16,361.94 264.03,362.32 263.87,362.70 263.69,363.09 263.50,363.48 263.30,363.86 263.09,364.25 262.88,364.63 262.09,365.01 261.32,365.40" fill="none" stroke="url(#gs)" stroke-opacity="0.59" stroke-width="1.6" stroke-linecap="round" stroke-linejoin="round" filter="url(#b3)"/>
<ellipse cx="261.50" cy="352.89" rx="1.0" ry="2.98" fill="#fff" fill-opacity="0.95" filter="url(#b1)"/>
<rect x="261.37" y="349.50" width="3.7" height="16.40" rx="1.9" fill="#fff" fill-opacity="0.38" filter="url(#b2)"/>
<rect x="270.66" y="349.70" width="4.04" height="16.00" rx="2.2" fill="url(#gb)" opacity="0.33" filter="url(#b2)"/>
<polyline points="272.68,350.50 272.97,350.86 273.24,351.22 273.48,351.58 273.69,351.94 273.85,352.30 273.96,352.66 274.01,353.02 273.99,353.38 273.92,353.74 273.78,354.10 273.60,354.46 273.37,354.82 273.12,355.18 272.84,355.54 272.58,355.90 272.37,356.26 272.15,356.62 271.95,356.98 271.76,357.34 271.59,357.70 271.44,358.06 271.31,358.42 271.21,358.78 271.13,359.14 271.09,359.50 271.07,359.86 271.08,360.22 271.12,360.58 271.20,360.94 271.29,361.30 271.42,361.66 271.57,362.02 271.73,362.38 271.92,362.74 272.12,363.10 272.33,363.46 272.55,363.82 272.96,364.18 273.65,364.54 274.12,364.90" fill="none" stroke="url(#gs)" stroke-opacity="0.41" stroke-width="1.6" stroke-linecap="round" stroke-linejoin="round" filter="url(#b3)"/>
<polyline points="272.68,350.50 272.40,350.86 272.13,351.22 271.88,351.58 271.68,351.94 271.52,352.30 271.41,352.66 271.36,353.02 271.38,353.38 271.45,353.74 271.58,354.10 271.77,354.46 271.99,354.82 272.25,355.18 272.53,355.54 272.79,355.90 273.00,356.26 273.22,356.62 273.42,356.98 273.61,357.34 273.78,357.70 273.93,358.06 274.06,358.42 274.16,358.78 274.24,359.14 274.28,359.50 274.30,359.86 274.29,360.22 274.24,360.58 274.17,360.94 274.08,361.30 273.95,361.66 273.80,362.02 273.63,362.38 273.45,362.74 273.25,363.10 273.04,363.46 272.82,363.82 272.40,364.18 271.72,364.54 271.25,364.90" fill="none" stroke="url(#gs)" stroke-opacity="0.58" stroke-width="1.6" stroke-linecap="round" stroke-linejoin="round" filter="url(#b3)"/>
<ellipse cx="271.38" cy="353.22" rx="1.0" ry="2.84" fill="#fff" fill-opacity="0.95" filter="url(#b1)"/>
<rect x="271.74" y="350.00" width="3.7" height="15.40" rx="1.9" fill="#fff" fill-opacity="0.46" filter="url(#b2)"/>
<rect x="281.10" y="350.20" width="3.96" height="15.00" rx="2.2" fill="url(#gb)" opacity="0.34" filter="url(#b2)"/>
<polyline points="283.08,351.00 283.35,351.33 283.61,351.67 283.84,352.00 284.04,352.34 284.20,352.68 284.31,353.01 284.36,353.35 284.35,353.68 284.29,354.01 284.17,354.35 284.00,354.69 283.79,355.02 283.55,355.36 283.29,355.69 283.03,356.02 282.79,356.36 282.56,356.69 282.34,357.03 282.14,357.37 281.96,357.70 281.81,358.04 281.69,358.37 281.60,358.70 281.54,359.04 281.52,359.38 281.54,359.71 281.59,360.05 281.68,360.38 281.80,360.71 281.95,361.05 282.12,361.38 282.32,361.72 282.54,362.06 282.77,362.39 283.00,362.73 283.33,363.06 283.68,363.39 284.00,363.73 284.27,364.06 284.47,364.40" fill="none" stroke="url(#gs)" stroke-opacity="0.40" stroke-width="1.6" stroke-linecap="round" stroke-linejoin="round" filter="url(#b3)"/>
<polyline points="283.08,351.00 282.81,351.33 282.55,351.67 282.32,352.00 282.12,352.34 281.96,352.68 281.86,353.01 281.81,353.35 281.81,353.68 281.88,354.01 282.00,354.35 282.16,354.69 282.37,355.02 282.61,355.36 282.87,355.69 283.14,356.02 283.37,356.36 283.60,356.69 283.82,357.03 284.02,357.37 284.20,357.70 284.35,358.04 284.48,358.37 284.57,358.70 284.62,359.04 284.64,359.38 284.63,359.71 284.57,360.05 284.49,360.38 284.37,360.71 284.22,361.05 284.04,361.38 283.84,361.72 283.62,362.06 283.40,362.39 283.16,362.73 282.84,363.06 282.48,363.39 282.16,363.73 281.89,364.06 281.69,364.40" fill="none" stroke="url(#gs)" stroke-opacity="0.58" stroke-width="1.6" stroke-linecap="round" stroke-linejoin="round" filter="url(#b3)"/>
<ellipse cx="281.78" cy="353.55" rx="1.0" ry="2.70" fill="#fff" fill-opacity="0.95" filter="url(#b1)"/>
<rect x="282.11" y="350.50" width="3.7" height="14.40" rx="1.9" fill="#fff" fill-opacity="0.53" filter="url(#b2)"/>
<rect x="291.92" y="350.70" width="3.88" height="14.00" rx="2.2" fill="url(#gb)" opacity="0.35" filter="url(#b2)"/>
<polyline points="293.86,351.50 294.11,351.81 294.35,352.12 294.56,352.43 294.75,352.74 294.91,353.05 295.02,353.36 295.08,353.67 295.10,353.98 295.06,354.29 294.98,354.60 294.86,354.91 294.69,355.22 294.49,355.53 294.27,355.84 294.02,356.15 293.79,356.46 293.57,356.77 293.35,357.08 293.15,357.39 292.97,357.70 292.80,358.01 292.66,358.32 292.54,358.63 292.45,358.94 292.39,359.25 292.36,359.56 292.37,359.87 292.40,360.18 292.47,360.49 292.57,360.80 292.70,361.11 292.85,361.42 293.02,361.73 293.22,362.04 293.42,362.35 293.64,362.66 293.86,362.97 294.39,363.28 294.87,363.59 295.21,363.90" fill="none" stroke="url(#gs)" stroke-opacity="0.40" stroke-width="1.6" stroke-linecap="round" stroke-linejoin="round" filter="url(#b3)"/>
<polyline points="293.86,351.50 293.62,351.81 293.38,352.12 293.17,352.43 292.98,352.74 292.82,353.05 292.71,353.36 292.65,353.67 292.63,353.98 292.66,354.29 292.75,354.60 292.87,354.91 293.04,355.22 293.24,355.53 293.46,355.84 293.70,356.15 293.94,356.46 294.16,356.77 294.37,357.08 294.58,357.39 294.76,357.70 294.93,358.01 295.07,358.32 295.19,358.63 295.28,358.94 295.34,359.25 295.37,359.56 295.36,359.87 295.33,360.18 295.26,360.49 295.16,360.80 295.03,361.11 294.88,361.42 294.71,361.73 294.51,362.04 294.31,362.35 294.09,362.66 293.87,362.97 293.34,363.28 292.86,363.59 292.52,363.90" fill="none" stroke="url(#gs)" stroke-opacity="0.57" stroke-width="1.6" stroke-linecap="round" stroke-linejoin="round" filter="url(#b3)"/>
<ellipse cx="292.56" cy="353.88" rx="1.0" ry="2.56" fill="#fff" fill-opacity="0.95" filter="url(#b1)"/>
<rect x="292.48" y="351.00" width="3.7" height="13.40" rx="1.9" fill="#fff" fill-opacity="0.60" filter="url(#b2)"/>
<rect x="302.50" y="351.04" width="3.80" height="13.32" rx="2.2" fill="url(#gb)" opacity="0.36" filter="url(#b2)"/>
<polyline points="304.40,351.84 304.66,352.13 304.91,352.43 305.13,352.72 305.32,353.01 305.46,353.30 305.55,353.60 305.59,353.89 305.57,354.18 305.49,354.48 305.35,354.77 305.17,355.06 304.96,355.36 304.71,355.65 304.45,355.94 304.24,356.23 304.05,356.53 303.86,356.82 303.69,357.11 303.52,357.41 303.38,357.70 303.25,357.99 303.14,358.29 303.05,358.58 302.99,358.87 302.96,359.16 302.95,359.46 302.97,359.75 303.01,360.04 303.08,360.34 303.18,360.63 303.29,360.92 303.43,361.22 303.58,361.51 303.75,361.80 303.93,362.09 304.12,362.39 304.32,362.68 304.75,362.97 305.30,363.27 305.69,363.56" fill="none" stroke="url(#gs)" stroke-opacity="0.39" stroke-width="1.6" stroke-linecap="round" stroke-linejoin="round" filter="url(#b3)"/>
<polyline points="304.40,351.84 304.14,352.13 303.89,352.43 303.67,352.72 303.48,353.01 303.34,353.30 303.25,353.60 303.21,353.89 303.23,354.18 303.31,354.48 303.45,354.77 303.63,355.06 303.84,355.36 304.09,355.65 304.35,355.94 304.56,356.23 304.75,356.53 304.94,356.82 305.11,357.11 305.28,357.41 305.42,357.70 305.55,357.99 305.66,358.29 305.75,358.58 305.81,358.87 305.84,359.16 305.85,359.46 305.83,359.75 305.79,360.04 305.72,360.34 305.62,360.63 305.51,360.92 305.37,361.22 305.22,361.51 305.05,361.80 304.87,362.09 304.68,362.39 304.48,362.68 304.05,362.97 303.50,363.27 303.11,363.56" fill="none" stroke="url(#gs)" stroke-opacity="0.56" stroke-width="1.6" stroke-linecap="round" stroke-linejoin="round" filter="url(#b3)"/>
<ellipse cx="303.10" cy="354.10" rx="1.0" ry="2.46" fill="#fff" fill-opacity="0.95" filter="url(#b1)"/>
<rect x="302.85" y="351.34" width="3.7" height="12.72" rx="1.9" fill="#fff" fill-opacity="0.68" filter="url(#b2)"/>
<rect x="312.69" y="351.38" width="3.72" height="12.64" rx="2.2" fill="url(#gb)" opacity="0.37" filter="url(#b2)"/>
<polyline points="314.55,352.18 314.78,352.46 315.01,352.73 315.22,353.01 315.39,353.28 315.53,353.56 315.63,353.84 315.68,354.11 315.68,354.39 315.64,354.66 315.54,354.94 315.40,355.22 315.23,355.49 315.02,355.77 314.80,356.04 314.56,356.32 314.35,356.60 314.16,356.87 313.97,357.15 313.79,357.42 313.63,357.70 313.48,357.98 313.36,358.25 313.27,358.53 313.20,358.80 313.16,359.08 313.15,359.36 313.17,359.63 313.22,359.91 313.29,360.18 313.40,360.46 313.52,360.74 313.67,361.01 313.84,361.29 314.02,361.56 314.21,361.84 314.41,362.12 314.70,362.39 315.14,362.67 315.52,362.94 315.79,363.22" fill="none" stroke="url(#gs)" stroke-opacity="0.39" stroke-width="1.6" stroke-linecap="round" stroke-linejoin="round" filter="url(#b3)"/>
<polyline points="314.55,352.18 314.31,352.46 314.08,352.73 313.88,353.01 313.70,353.28 313.56,353.56 313.46,353.84 313.41,354.11 313.41,354.39 313.46,354.66 313.55,354.94 313.69,355.22 313.86,355.49 314.07,355.77 314.30,356.04 314.53,356.32 314.74,356.60 314.93,356.87 315.12,357.15 315.30,357.42 315.46,357.70 315.61,357.98 315.73,358.25 315.82,358.53 315.89,358.80 315.93,359.08 315.94,359.36 315.92,359.63 315.87,359.91 315.80,360.18 315.69,360.46 315.57,360.74 315.42,361.01 315.25,361.29 315.07,361.56 314.88,361.84 314.68,362.12 314.39,362.39 313.95,362.67 313.57,362.94 313.30,363.22" fill="none" stroke="url(#gs)" stroke-opacity="0.55" stroke-width="1.6" stroke-linecap="round" stroke-linejoin="round" filter="url(#b3)"/>
<ellipse cx="313.25" cy="354.33" rx="1.0" ry="2.37" fill="#fff" fill-opacity="0.95" filter="url(#b1)"/>
<rect x="313.22" y="351.68" width="3.7" height="12.04" rx="1.9" fill="#fff" fill-opacity="0.75" filter="url(#b2)"/>
<rect x="323.29" y="351.72" width="3.64" height="11.96" rx="2.2" fill="url(#gb)" opacity="0.38" filter="url(#b2)"/>
<polyline points="325.11,352.52 325.32,352.78 325.53,353.04 325.72,353.30 325.88,353.56 326.02,353.81 326.12,354.07 326.19,354.33 326.21,354.59 326.19,354.85 326.14,355.11 326.04,355.37 325.91,355.63 325.75,355.89 325.57,356.15 325.37,356.40 325.16,356.66 324.95,356.92 324.75,357.18 324.56,357.44 324.38,357.70 324.22,357.96 324.07,358.22 323.96,358.48 323.87,358.74 323.81,359.00 323.78,359.25 323.78,359.51 323.81,359.77 323.87,360.03 323.96,360.29 324.08,360.55 324.23,360.81 324.39,361.07 324.57,361.33 324.76,361.58 324.96,361.84 325.24,362.10 325.67,362.36 326.04,362.62 326.31,362.88" fill="none" stroke="url(#gs)" stroke-opacity="0.38" stroke-width="1.6" stroke-linecap="round" stroke-linejoin="round" filter="url(#b3)"/>
<polyline points="325.11,352.52 324.90,352.78 324.70,353.04 324.51,353.30 324.34,353.56 324.21,353.81 324.10,354.07 324.04,354.33 324.01,354.59 324.03,354.85 324.09,355.11 324.18,355.37 324.31,355.63 324.47,355.89 324.65,356.15 324.85,356.40 325.06,356.66 325.27,356.92 325.47,357.18 325.67,357.44 325.85,357.70 326.01,357.96 326.15,358.22 326.27,358.48 326.36,358.74 326.42,359.00 326.45,359.25 326.45,359.51 326.42,359.77 326.35,360.03 326.26,360.29 326.14,360.55 326.00,360.81 325.83,361.07 325.65,361.33 325.46,361.58 325.26,361.84 324.99,362.10 324.55,362.36 324.18,362.62 323.92,362.88" fill="none" stroke="url(#gs)" stroke-opacity="0.55" stroke-width="1.6" stroke-linecap="round" stroke-linejoin="round" filter="url(#b3)"/>
<ellipse cx="323.81" cy="354.55" rx="1.0" ry="2.27" fill="#fff" fill-opacity="0.95" filter="url(#b1)"/>
<rect x="323.59" y="352.02" width="3.7" height="11.36" rx="1.9" fill="#fff" fill-opacity="0.83" filter="url(#b2)"/>
<ellipse cx="325.54" cy="357.70" rx="1.4" ry="4.78" fill="#fff" filter="url(#b0)"/>
<ellipse cx="321.94" cy="358.00" rx="2.0" ry="4.31" fill="#fff" fill-opacity="0.36" filter="url(#b2)"/>
<rect x="325.04" y="349.20" width="1.0" height="17" fill="#fff" fill-opacity="0.12" filter="url(#b1)"/>
<rect x="333.08" y="352.06" width="3.56" height="11.28" rx="2.2" fill="url(#gb)" opacity="0.39" filter="url(#b2)"/>
<polyline points="334.86,352.86 335.07,353.10 335.28,353.34 335.46,353.59 335.62,353.83 335.75,354.07 335.85,354.31 335.90,354.55 335.91,354.80 335.88,355.04 335.80,355.28 335.69,355.52 335.54,355.76 335.36,356.01 335.16,356.25 334.95,356.49 334.76,356.73 334.57,356.97 334.40,357.22 334.23,357.46 334.08,357.70 333.94,357.94 333.82,358.18 333.72,358.43 333.65,358.67 333.60,358.91 333.58,359.15 333.58,359.39 333.61,359.64 333.67,359.88 333.75,360.12 333.85,360.36 333.97,360.60 334.12,360.85 334.28,361.09 334.45,361.33 334.62,361.57 334.81,361.81 335.23,362.06 335.68,362.30 336.00,362.54" fill="none" stroke="url(#gs)" stroke-opacity="0.37" stroke-width="1.6" stroke-linecap="round" stroke-linejoin="round" filter="url(#b3)"/>
<polyline points="334.86,352.86 334.65,353.10 334.44,353.34 334.25,353.59 334.09,353.83 333.96,354.07 333.87,354.31 333.82,354.55 333.81,354.80 333.84,355.04 333.92,355.28 334.03,355.52 334.18,355.76 334.36,356.01 334.55,356.25 334.76,356.49 334.96,356.73 335.14,356.97 335.32,357.22 335.49,357.46 335.64,357.70 335.78,357.94 335.90,358.18 336.00,358.43 336.07,358.67 336.12,358.91 336.14,359.15 336.14,359.39 336.11,359.64 336.05,359.88 335.97,360.12 335.87,360.36 335.74,360.60 335.60,360.85 335.44,361.09 335.27,361.33 335.09,361.57 334.91,361.81 334.49,362.06 334.03,362.30 333.71,362.54" fill="none" stroke="url(#gs)" stroke-opacity="0.54" stroke-width="1.6" stroke-linecap="round" stroke-linejoin="round" filter="url(#b3)"/>
<ellipse cx="333.56" cy="354.78" rx="1.0" ry="2.18" fill="#fff" fill-opacity="0.95" filter="url(#b1)"/>
<rect x="333.96" y="352.36" width="3.7" height="10.68" rx="1.9" fill="#fff" fill-opacity="0.90" filter="url(#b2)"/>
<ellipse cx="335.91" cy="357.70" rx="1.4" ry="4.44" fill="#fff" filter="url(#b0)"/>
<ellipse cx="332.31" cy="358.00" rx="2.0" ry="4.06" fill="#fff" fill-opacity="0.42" filter="url(#b2)"/>
<rect x="335.41" y="349.20" width="1.0" height="17" fill="#fff" fill-opacity="0.12" filter="url(#b1)"/>
<rect x="344.03" y="352.70" width="4.3" height="10.00" rx="1.9" fill="#fff" fill-opacity="0.98" filter="url(#b2)"/>
<ellipse cx="346.28" cy="357.70" rx="1.4" ry="4.10" fill="#fff" filter="url(#b0)"/>
<ellipse cx="342.68" cy="358.00" rx="2.0" ry="3.82" fill="#fff" fill-opacity="0.30" filter="url(#b2)"/>
<rect x="345.78" y="349.20" width="1.0" height="17" fill="#fff" fill-opacity="0.12" filter="url(#b1)"/>
<rect x="354.40" y="352.93" width="4.3" height="9.55" rx="1.9" fill="#fff" fill-opacity="1.00" filter="url(#b2)"/>
<ellipse cx="356.65" cy="357.70" rx="1.4" ry="3.88" fill="#fff" filter="url(#b0)"/>
<ellipse cx="353.05" cy="358.00" rx="2.0" ry="3.65" fill="#fff" fill-opacity="0.36" filter="url(#b2)"/>
<rect x="356.15" y="349.20" width="1.0" height="17" fill="#fff" fill-opacity="0.12" filter="url(#b1)"/>
<rect x="364.77" y="353.15" width="4.3" height="9.10" rx="1.9" fill="#fff" fill-opacity="1.00" filter="url(#b2)"/>
<ellipse cx="367.02" cy="357.70" rx="1.4" ry="3.65" fill="#fff" filter="url(#b0)"/>
<ellipse cx="363.42" cy="358.00" rx="2.0" ry="3.49" fill="#fff" fill-opacity="0.33" filter="url(#b2)"/>
<rect x="366.52" y="349.20" width="1.0" height="17" fill="#fff" fill-opacity="0.12" filter="url(#b1)"/>
<rect x="375.14" y="353.38" width="4.3" height="8.65" rx="1.9" fill="#fff" fill-opacity="1.00" filter="url(#b2)"/>
<ellipse cx="377.39" cy="357.70" rx="1.4" ry="3.42" fill="#fff" filter="url(#b0)"/>
<ellipse cx="373.79" cy="358.00" rx="2.0" ry="3.33" fill="#fff" fill-opacity="0.27" filter="url(#b2)"/>
<rect x="376.89" y="349.20" width="1.0" height="17" fill="#fff" fill-opacity="0.12" filter="url(#b1)"/>
<rect x="385.51" y="353.60" width="4.3" height="8.20" rx="1.9" fill="#fff" fill-opacity="1.00" filter="url(#b2)"/>
<ellipse cx="387.76" cy="357.70" rx="1.4" ry="3.20" fill="#fff" filter="url(#b0)"/>
<ellipse cx="384.16" cy="358.00" rx="2.0" ry="3.17" fill="#fff" fill-opacity="0.38" filter="url(#b2)"/>
<rect x="387.26" y="349.20" width="1.0" height="17" fill="#fff" fill-opacity="0.12" filter="url(#b1)"/>
<rect x="395.88" y="353.68" width="4.3" height="8.03" rx="1.9" fill="#fff" fill-opacity="1.00" filter="url(#b2)"/>
<ellipse cx="398.13" cy="357.70" rx="1.4" ry="3.12" fill="#fff" filter="url(#b0)"/>
<ellipse cx="394.53" cy="358.00" rx="2.0" ry="3.11" fill="#fff" fill-opacity="0.29" filter="url(#b2)"/>
<rect x="397.63" y="349.20" width="1.0" height="17" fill="#fff" fill-opacity="0.12" filter="url(#b1)"/>
<rect x="406.25" y="353.77" width="4.3" height="7.87" rx="1.9" fill="#fff" fill-opacity="1.00" filter="url(#b2)"/>
<ellipse cx="408.50" cy="357.70" rx="1.4" ry="3.03" fill="#fff" filter="url(#b0)"/>
<ellipse cx="404.90" cy="358.00" rx="2.0" ry="3.05" fill="#fff" fill-opacity="0.40" filter="url(#b2)"/>
<rect x="408.00" y="349.20" width="1.0" height="17" fill="#fff" fill-opacity="0.12" filter="url(#b1)"/>
<rect x="416.62" y="353.85" width="4.3" height="7.70" rx="1.9" fill="#fff" fill-opacity="1.00" filter="url(#b2)"/>
<ellipse cx="418.87" cy="357.70" rx="1.4" ry="2.95" fill="#fff" filter="url(#b0)"/>
<ellipse cx="415.27" cy="358.00" rx="2.0" ry="2.99" fill="#fff" fill-opacity="0.33" filter="url(#b2)"/>
<rect x="418.37" y="349.20" width="1.0" height="17" fill="#fff" fill-opacity="0.12" filter="url(#b1)"/>
<rect x="426.99" y="353.93" width="4.3" height="7.53" rx="1.9" fill="#fff" fill-opacity="1.00" filter="url(#b2)"/>
<ellipse cx="429.24" cy="357.70" rx="1.4" ry="2.87" fill="#fff" filter="url(#b0)"/>
<ellipse cx="425.64" cy="358.00" rx="2.0" ry="2.93" fill="#fff" fill-opacity="0.40" filter="url(#b2)"/>
<rect x="428.74" y="349.20" width="1.0" height="17" fill="#fff" fill-opacity="0.12" filter="url(#b1)"/>
<rect x="437.36" y="354.02" width="4.3" height="7.37" rx="1.9" fill="#fff" fill-opacity="1.00" filter="url(#b2)"/>
<ellipse cx="439.61" cy="357.70" rx="1.4" ry="2.78" fill="#fff" filter="url(#b0)"/>
<ellipse cx="436.01" cy="358.00" rx="2.0" ry="2.87" fill="#fff" fill-opacity="0.40" filter="url(#b2)"/>
<rect x="439.11" y="349.20" width="1.0" height="17" fill="#fff" fill-opacity="0.12" filter="url(#b1)"/>
<rect x="447.73" y="354.70" width="4.3" height="7.20" rx="1.9" fill="#fff" fill-opacity="1.00" filter="url(#b2)"/>
<ellipse cx="449.98" cy="358.30" rx="1.4" ry="2.70" fill="#fff" filter="url(#b0)"/>
<ellipse cx="446.38" cy="358.60" rx="2.0" ry="2.81" fill="#fff" fill-opacity="0.32" filter="url(#b2)"/>
<rect x="449.48" y="349.80" width="1.0" height="17" fill="#fff" fill-opacity="0.12" filter="url(#b1)"/>
<rect x="458.10" y="354.73" width="4.3" height="7.13" rx="1.9" fill="#fff" fill-opacity="1.00" filter="url(#b2)"/>
<ellipse cx="460.35" cy="358.30" rx="1.4" ry="2.67" fill="#fff" filter="url(#b0)"/>
<ellipse cx="456.75" cy="358.60" rx="2.0" ry="2.78" fill="#fff" fill-opacity="0.40" filter="url(#b2)"/>
<rect x="459.85" y="349.80" width="1.0" height="17" fill="#fff" fill-opacity="0.12" filter="url(#b1)"/>
<rect x="468.47" y="354.77" width="4.3" height="7.07" rx="1.9" fill="#fff" fill-opacity="1.00" filter="url(#b2)"/>
<ellipse cx="470.72" cy="358.30" rx="1.4" ry="2.63" fill="#fff" filter="url(#b0)"/>
<ellipse cx="467.12" cy="358.60" rx="2.0" ry="2.76" fill="#fff" fill-opacity="0.28" filter="url(#b2)"/>
<rect x="470.22" y="349.80" width="1.0" height="17" fill="#fff" fill-opacity="0.12" filter="url(#b1)"/>
<rect x="478.84" y="354.80" width="4.3" height="7.00" rx="1.9" fill="#fff" fill-opacity="1.00" filter="url(#b2)"/>
<ellipse cx="481.09" cy="358.30" rx="1.4" ry="2.60" fill="#fff" filter="url(#b0)"/>
<ellipse cx="477.49" cy="358.60" rx="2.0" ry="2.74" fill="#fff" fill-opacity="0.29" filter="url(#b2)"/>
<rect x="480.59" y="349.80" width="1.0" height="17" fill="#fff" fill-opacity="0.12" filter="url(#b1)"/>
<rect x="489.21" y="354.83" width="4.3" height="6.93" rx="1.9" fill="#fff" fill-opacity="1.00" filter="url(#b2)"/>
<ellipse cx="491.46" cy="358.30" rx="1.4" ry="2.57" fill="#fff" filter="url(#b0)"/>
<ellipse cx="487.86" cy="358.60" rx="2.0" ry="2.71" fill="#fff" fill-opacity="0.33" filter="url(#b2)"/>
<rect x="490.96" y="349.80" width="1.0" height="17" fill="#fff" fill-opacity="0.12" filter="url(#b1)"/>
<rect x="499.58" y="354.87" width="4.3" height="6.87" rx="1.9" fill="#fff" fill-opacity="1.00" filter="url(#b2)"/>
<ellipse cx="501.83" cy="358.30" rx="1.4" ry="2.53" fill="#fff" filter="url(#b0)"/>
<ellipse cx="498.23" cy="358.60" rx="2.0" ry="2.69" fill="#fff" fill-opacity="0.29" filter="url(#b2)"/>
<rect x="501.33" y="349.80" width="1.0" height="17" fill="#fff" fill-opacity="0.12" filter="url(#b1)"/>
<rect x="509.95" y="354.90" width="4.3" height="6.80" rx="1.9" fill="#fff" fill-opacity="1.00" filter="url(#b2)"/>
<ellipse cx="512.20" cy="358.30" rx="1.4" ry="2.50" fill="#fff" filter="url(#b0)"/>
<ellipse cx="508.60" cy="358.60" rx="2.0" ry="2.66" fill="#fff" fill-opacity="0.32" filter="url(#b2)"/>
<rect x="511.70" y="349.80" width="1.0" height="17" fill="#fff" fill-opacity="0.12" filter="url(#b1)"/>
<rect x="520.32" y="354.90" width="4.3" height="6.80" rx="1.9" fill="#fff" fill-opacity="1.00" filter="url(#b2)"/>
<ellipse cx="522.57" cy="358.30" rx="1.4" ry="2.50" fill="#fff" filter="url(#b0)"/>
<ellipse cx="518.97" cy="358.60" rx="2.0" ry="2.66" fill="#fff" fill-opacity="0.35" filter="url(#b2)"/>
<rect x="522.07" y="349.80" width="1.0" height="17" fill="#fff" fill-opacity="0.12" filter="url(#b1)"/>
<rect x="530.69" y="354.90" width="4.3" height="6.80" rx="1.9" fill="#fff" fill-opacity="1.00" filter="url(#b2)"/>
<ellipse cx="532.94" cy="358.30" rx="1.4" ry="2.50" fill="#fff" filter="url(#b0)"/>
<ellipse cx="529.34" cy="358.60" rx="2.0" ry="2.66" fill="#fff" fill-opacity="0.37" filter="url(#b2)"/>
<rect x="532.44" y="349.80" width="1.0" height="17" fill="#fff" fill-opacity="0.12" filter="url(#b1)"/>
<rect x="541.06" y="354.90" width="4.3" height="6.80" rx="1.9" fill="#fff" fill-opacity="1.00" filter="url(#b2)"/>
<ellipse cx="543.31" cy="358.30" rx="1.4" ry="2.50" fill="#fff" filter="url(#b0)"/>
<ellipse cx="539.71" cy="358.60" rx="2.0" ry="2.66" fill="#fff" fill-opacity="0.35" filter="url(#b2)"/>
<rect x="542.81" y="349.80" width="1.0" height="17" fill="#fff" fill-opacity="0.12" filter="url(#b1)"/>
<rect x="551.43" y="354.90" width="4.3" height="6.80" rx="1.9" fill="#fff" fill-opacity="1.00" filter="url(#b2)"/>
<ellipse cx="553.68" cy="358.30" rx="1.4" ry="2.50" fill="#fff" filter="url(#b0)"/>
<ellipse cx="550.08" cy="358.60" rx="2.0" ry="2.66" fill="#fff" fill-opacity="0.26" filter="url(#b2)"/>
<rect x="553.18" y="349.80" width="1.0" height="17" fill="#fff" fill-opacity="0.12" filter="url(#b1)"/>
<rect x="561.80" y="354.90" width="4.3" height="6.80" rx="1.9" fill="#fff" fill-opacity="1.00" filter="url(#b2)"/>
<ellipse cx="564.05" cy="358.30" rx="1.4" ry="2.50" fill="#fff" filter="url(#b0)"/>
<ellipse cx="560.45" cy="358.60" rx="2.0" ry="2.66" fill="#fff" fill-opacity="0.38" filter="url(#b2)"/>
<rect x="563.55" y="349.80" width="1.0" height="17" fill="#fff" fill-opacity="0.12" filter="url(#b1)"/>
<rect x="572.17" y="354.90" width="4.3" height="6.80" rx="1.9" fill="#fff" fill-opacity="1.00" filter="url(#b2)"/>
<ellipse cx="574.42" cy="358.30" rx="1.4" ry="2.50" fill="#fff" filter="url(#b0)"/>
<ellipse cx="570.82" cy="358.60" rx="2.0" ry="2.66" fill="#fff" fill-opacity="0.39" filter="url(#b2)"/>
<rect x="573.92" y="349.80" width="1.0" height="17" fill="#fff" fill-opacity="0.12" filter="url(#b1)"/>
<rect x="582.54" y="354.90" width="4.3" height="6.80" rx="1.9" fill="#fff" fill-opacity="1.00" filter="url(#b2)"/>
<ellipse cx="584.79" cy="358.30" rx="1.4" ry="2.50" fill="#fff" filter="url(#b0)"/>
<ellipse cx="581.19" cy="358.60" rx="2.0" ry="2.66" fill="#fff" fill-opacity="0.32" filter="url(#b2)"/>
<rect x="584.29" y="349.80" width="1.0" height="17" fill="#fff" fill-opacity="0.12" filter="url(#b1)"/>
<rect x="592.91" y="354.90" width="4.3" height="6.80" rx="1.9" fill="#fff" fill-opacity="1.00" filter="url(#b2)"/>
<ellipse cx="595.16" cy="358.30" rx="1.4" ry="2.50" fill="#fff" filter="url(#b0)"/>
<ellipse cx="591.56" cy="358.60" rx="2.0" ry="2.66" fill="#fff" fill-opacity="0.36" filter="url(#b2)"/>
<rect x="594.66" y="349.80" width="1.0" height="17" fill="#fff" fill-opacity="0.12" filter="url(#b1)"/>
<rect x="603.28" y="354.90" width="4.3" height="6.80" rx="1.9" fill="#fff" fill-opacity="1.00" filter="url(#b2)"/>
<ellipse cx="605.53" cy="358.30" rx="1.4" ry="2.50" fill="#fff" filter="url(#b0)"/>
<ellipse cx="601.93" cy="358.60" rx="2.0" ry="2.66" fill="#fff" fill-opacity="0.26" filter="url(#b2)"/>
<rect x="605.03" y="349.80" width="1.0" height="17" fill="#fff" fill-opacity="0.12" filter="url(#b1)"/>
<rect x="613.65" y="354.90" width="4.3" height="6.80" rx="1.9" fill="#fff" fill-opacity="1.00" filter="url(#b2)"/>
<ellipse cx="615.90" cy="358.30" rx="1.4" ry="2.50" fill="#fff" filter="url(#b0)"/>
<ellipse cx="612.30" cy="358.60" rx="2.0" ry="2.66" fill="#fff" fill-opacity="0.28" filter="url(#b2)"/>
<rect x="615.40" y="349.80" width="1.0" height="17" fill="#fff" fill-opacity="0.12" filter="url(#b1)"/>
<rect x="624.02" y="354.90" width="4.3" height="6.80" rx="1.9" fill="#fff" fill-opacity="1.00" filter="url(#b2)"/>
<ellipse cx="626.27" cy="358.30" rx="1.4" ry="2.50" fill="#fff" filter="url(#b0)"/>
<ellipse cx="622.67" cy="358.60" rx="2.0" ry="2.66" fill="#fff" fill-opacity="0.26" filter="url(#b2)"/>
<rect x="625.77" y="349.80" width="1.0" height="17" fill="#fff" fill-opacity="0.12" filter="url(#b1)"/>
<rect x="634.39" y="354.90" width="4.3" height="6.80" rx="1.9" fill="#fff" fill-opacity="1.00" filter="url(#b2)"/>
<ellipse cx="636.64" cy="358.30" rx="1.4" ry="2.50" fill="#fff" filter="url(#b0)"/>
<ellipse cx="633.04" cy="358.60" rx="2.0" ry="2.66" fill="#fff" fill-opacity="0.28" filter="url(#b2)"/>
<rect x="636.14" y="349.80" width="1.0" height="17" fill="#fff" fill-opacity="0.12" filter="url(#b1)"/>
<rect x="644.76" y="354.90" width="4.3" height="6.80" rx="1.9" fill="#fff" fill-opacity="1.00" filter="url(#b2)"/>
<ellipse cx="647.01" cy="358.30" rx="1.4" ry="2.50" fill="#fff" filter="url(#b0)"/>
<ellipse cx="643.41" cy="358.60" rx="2.0" ry="2.66" fill="#fff" fill-opacity="0.31" filter="url(#b2)"/>
<rect x="646.51" y="349.80" width="1.0" height="17" fill="#fff" fill-opacity="0.12" filter="url(#b1)"/>
<rect x="655.13" y="354.90" width="4.3" height="6.80" rx="1.9" fill="#fff" fill-opacity="1.00" filter="url(#b2)"/>
<ellipse cx="657.38" cy="358.30" rx="1.4" ry="2.50" fill="#fff" filter="url(#b0)"/>
<ellipse cx="653.78" cy="358.60" rx="2.0" ry="2.66" fill="#fff" fill-opacity="0.40" filter="url(#b2)"/>
<rect x="656.88" y="349.80" width="1.0" height="17" fill="#fff" fill-opacity="0.12" filter="url(#b1)"/>
<rect x="665.50" y="354.90" width="4.3" height="6.80" rx="1.9" fill="#fff" fill-opacity="1.00" filter="url(#b2)"/>
<ellipse cx="667.75" cy="358.30" rx="1.4" ry="2.50" fill="#fff" filter="url(#b0)"/>
<ellipse cx="664.15" cy="358.60" rx="2.0" ry="2.66" fill="#fff" fill-opacity="0.28" filter="url(#b2)"/>
<rect x="667.25" y="349.80" width="1.0" height="17" fill="#fff" fill-opacity="0.12" filter="url(#b1)"/>
<rect x="675.87" y="354.90" width="4.3" height="6.80" rx="1.9" fill="#fff" fill-opacity="1.00" filter="url(#b2)"/>
<ellipse cx="678.12" cy="358.30" rx="1.4" ry="2.50" fill="#fff" filter="url(#b0)"/>
<ellipse cx="674.52" cy="358.60" rx="2.0" ry="2.66" fill="#fff" fill-opacity="0.31" filter="url(#b2)"/>
<rect x="677.62" y="349.80" width="1.0" height="17" fill="#fff" fill-opacity="0.12" filter="url(#b1)"/>
<rect x="686.24" y="354.90" width="4.3" height="6.80" rx="1.9" fill="#fff" fill-opacity="1.00" filter="url(#b2)"/>
<ellipse cx="688.49" cy="358.30" rx="1.4" ry="2.50" fill="#fff" filter="url(#b0)"/>
<ellipse cx="684.89" cy="358.60" rx="2.0" ry="2.66" fill="#fff" fill-opacity="0.27" filter="url(#b2)"/>
<rect x="687.99" y="349.80" width="1.0" height="17" fill="#fff" fill-opacity="0.12" filter="url(#b1)"/>
<rect x="696.61" y="354.90" width="4.3" height="6.80" rx="1.9" fill="#fff" fill-opacity="1.00" filter="url(#b2)"/>
<ellipse cx="698.86" cy="358.30" rx="1.4" ry="2.50" fill="#fff" filter="url(#b0)"/>
<ellipse cx="695.26" cy="358.60" rx="2.0" ry="2.66" fill="#fff" fill-opacity="0.42" filter="url(#b2)"/>
<rect x="698.36" y="349.80" width="1.0" height="17" fill="#fff" fill-opacity="0.12" filter="url(#b1)"/>
<rect x="706.98" y="354.90" width="4.3" height="6.80" rx="1.9" fill="#fff" fill-opacity="1.00" filter="url(#b2)"/>
<ellipse cx="709.23" cy="358.30" rx="1.4" ry="2.50" fill="#fff" filter="url(#b0)"/>
<ellipse cx="705.63" cy="358.60" rx="2.0" ry="2.66" fill="#fff" fill-opacity="0.33" filter="url(#b2)"/>
<rect x="708.73" y="349.80" width="1.0" height="17" fill="#fff" fill-opacity="0.12" filter="url(#b1)"/>
<rect x="717.35" y="354.90" width="4.3" height="6.80" rx="1.9" fill="#fff" fill-opacity="1.00" filter="url(#b2)"/>
<ellipse cx="719.60" cy="358.30" rx="1.4" ry="2.50" fill="#fff" filter="url(#b0)"/>
<ellipse cx="716.00" cy="358.60" rx="2.0" ry="2.66" fill="#fff" fill-opacity="0.27" filter="url(#b2)"/>
<rect x="719.10" y="349.80" width="1.0" height="17" fill="#fff" fill-opacity="0.12" filter="url(#b1)"/>
<rect x="727.72" y="354.90" width="4.3" height="6.80" rx="1.9" fill="#fff" fill-opacity="1.00" filter="url(#b2)"/>
<ellipse cx="729.97" cy="358.30" rx="1.4" ry="2.50" fill="#fff" filter="url(#b0)"/>
<ellipse cx="726.37" cy="358.60" rx="2.0" ry="2.66" fill="#fff" fill-opacity="0.30" filter="url(#b2)"/>
<rect x="729.47" y="349.80" width="1.0" height="17" fill="#fff" fill-opacity="0.12" filter="url(#b1)"/>
<rect x="738.09" y="354.90" width="4.3" height="6.80" rx="1.9" fill="#fff" fill-opacity="1.00" filter="url(#b2)"/>
<ellipse cx="740.34" cy="358.30" rx="1.4" ry="2.50" fill="#fff" filter="url(#b0)"/>
<ellipse cx="736.74" cy="358.60" rx="2.0" ry="2.66" fill="#fff" fill-opacity="0.28" filter="url(#b2)"/>
<rect x="739.84" y="349.80" width="1.0" height="17" fill="#fff" fill-opacity="0.12" filter="url(#b1)"/>
</g>
<line x1="92.10" y1="797.64" x2="96.60" y2="797.64" stroke="#000" stroke-width="1.9" />
<line x1="92.10" y1="782.34" x2="96.60" y2="782.34" stroke="#000" stroke-width="1.9" />
<line x1="92.10" y1="771.48" x2="96.60" y2="771.48" stroke="#000" stroke-width="1.9" />
<line x1="92.10" y1="763.06" x2="96.60" y2="763.06" stroke="#000" stroke-width="1.9" />
<line x1="92.10" y1="756.18" x2="96.60" y2="756.18" stroke="#000" stroke-width="1.9" />
<line x1="92.10" y1="750.36" x2="96.60" y2="750.36" stroke="#000" stroke-width="1.9" />
<line x1="92.10" y1="745.32" x2="96.60" y2="745.32" stroke="#000" stroke-width="1.9" />
<line x1="92.10" y1="740.88" x2="96.60" y2="740.88" stroke="#000" stroke-width="1.9" />
<line x1="92.10" y1="736.90" x2="100.70" y2="736.90" stroke="#000" stroke-width="1.9" />
<line x1="92.10" y1="710.74" x2="96.60" y2="710.74" stroke="#000" stroke-width="1.9" />
<line x1="92.10" y1="695.44" x2="96.60" y2="695.44" stroke="#000" stroke-width="1.9" />
<line x1="92.10" y1="684.58" x2="96.60" y2="684.58" stroke="#000" stroke-width="1.9" />
<line x1="92.10" y1="676.16" x2="96.60" y2="676.16" stroke="#000" stroke-width="1.9" />
<line x1="92.10" y1="669.28" x2="96.60" y2="669.28" stroke="#000" stroke-width="1.9" />
<line x1="92.10" y1="663.46" x2="96.60" y2="663.46" stroke="#000" stroke-width="1.9" />
<line x1="92.10" y1="658.42" x2="96.60" y2="658.42" stroke="#000" stroke-width="1.9" />
<line x1="92.10" y1="653.98" x2="96.60" y2="653.98" stroke="#000" stroke-width="1.9" />
<line x1="92.10" y1="650.00" x2="100.70" y2="650.00" stroke="#000" stroke-width="1.9" />
<line x1="92.10" y1="623.84" x2="96.60" y2="623.84" stroke="#000" stroke-width="1.9" />
<line x1="92.10" y1="608.54" x2="96.60" y2="608.54" stroke="#000" stroke-width="1.9" />
<line x1="92.10" y1="597.68" x2="96.60" y2="597.68" stroke="#000" stroke-width="1.9" />
<line x1="92.10" y1="589.26" x2="96.60" y2="589.26" stroke="#000" stroke-width="1.9" />
<line x1="92.10" y1="582.38" x2="96.60" y2="582.38" stroke="#000" stroke-width="1.9" />
<line x1="92.10" y1="576.56" x2="96.60" y2="576.56" stroke="#000" stroke-width="1.9" />
<line x1="92.10" y1="571.52" x2="96.60" y2="571.52" stroke="#000" stroke-width="1.9" />
<line x1="92.10" y1="567.08" x2="96.60" y2="567.08" stroke="#000" stroke-width="1.9" />
<line x1="92.10" y1="563.10" x2="100.70" y2="563.10" stroke="#000" stroke-width="1.9" />
<line x1="92.10" y1="536.94" x2="96.60" y2="536.94" stroke="#000" stroke-width="1.9" />
<line x1="92.10" y1="521.64" x2="96.60" y2="521.64" stroke="#000" stroke-width="1.9" />
<line x1="92.10" y1="510.78" x2="96.60" y2="510.78" stroke="#000" stroke-width="1.9" />
<line x1="92.10" y1="502.36" x2="96.60" y2="502.36" stroke="#000" stroke-width="1.9" />
<line x1="92.10" y1="495.48" x2="96.60" y2="495.48" stroke="#000" stroke-width="1.9" />
<line x1="92.10" y1="489.66" x2="96.60" y2="489.66" stroke="#000" stroke-width="1.9" />
<line x1="92.10" y1="484.62" x2="96.60" y2="484.62" stroke="#000" stroke-width="1.9" />
<line x1="92.10" y1="480.18" x2="96.60" y2="480.18" stroke="#000" stroke-width="1.9" />
<line x1="92.10" y1="476.20" x2="100.70" y2="476.20" stroke="#000" stroke-width="1.9" />
<line x1="92.10" y1="450.04" x2="96.60" y2="450.04" stroke="#000" stroke-width="1.9" />
<line x1="92.10" y1="434.74" x2="96.60" y2="434.74" stroke="#000" stroke-width="1.9" />
<line x1="92.10" y1="423.88" x2="96.60" y2="423.88" stroke="#000" stroke-width="1.9" />
<line x1="92.10" y1="415.46" x2="96.60" y2="415.46" stroke="#000" stroke-width="1.9" />
<line x1="92.10" y1="408.58" x2="96.60" y2="408.58" stroke="#000" stroke-width="1.9" />
<line x1="102.55" y1="824.00" x2="102.55" y2="819.50" stroke="#000" stroke-width="1.9" />
<line x1="111.71" y1="824.00" x2="111.71" y2="819.50" stroke="#000" stroke-width="1.9" />
<line x1="119.64" y1="824.00" x2="119.64" y2="819.50" stroke="#000" stroke-width="1.9" />
<line x1="126.64" y1="824.00" x2="126.64" y2="819.50" stroke="#000" stroke-width="1.9" />
<line x1="132.90" y1="824.00" x2="132.90" y2="815.40" stroke="#000" stroke-width="1.9" />
<line x1="174.08" y1="824.00" x2="174.08" y2="819.50" stroke="#000" stroke-width="1.9" />
<line x1="198.17" y1="824.00" x2="198.17" y2="819.50" stroke="#000" stroke-width="1.9" />
<line x1="215.26" y1="824.00" x2="215.26" y2="819.50" stroke="#000" stroke-width="1.9" />
<line x1="228.52" y1="824.00" x2="228.52" y2="819.50" stroke="#000" stroke-width="1.9" />
<line x1="239.35" y1="824.00" x2="239.35" y2="819.50" stroke="#000" stroke-width="1.9" />
<line x1="248.51" y1="824.00" x2="248.51" y2="819.50" stroke="#000" stroke-width="1.9" />
<line x1="256.44" y1="824.00" x2="256.44" y2="819.50" stroke="#000" stroke-width="1.9" />
<line x1="263.44" y1="824.00" x2="263.44" y2="819.50" stroke="#000" stroke-width="1.9" />
<line x1="269.70" y1="824.00" x2="269.70" y2="815.40" stroke="#000" stroke-width="1.9" />
<line x1="310.88" y1="824.00" x2="310.88" y2="819.50" stroke="#000" stroke-width="1.9" />
<line x1="334.97" y1="824.00" x2="334.97" y2="819.50" stroke="#000" stroke-width="1.9" />
<line x1="352.06" y1="824.00" x2="352.06" y2="819.50" stroke="#000" stroke-width="1.9" />
<line x1="365.32" y1="824.00" x2="365.32" y2="819.50" stroke="#000" stroke-width="1.9" />
<line x1="376.15" y1="824.00" x2="376.15" y2="819.50" stroke="#000" stroke-width="1.9" />
<line x1="385.31" y1="824.00" x2="385.31" y2="819.50" stroke="#000" stroke-width="1.9" />
<line x1="393.24" y1="824.00" x2="393.24" y2="819.50" stroke="#000" stroke-width="1.9" />
<line x1="400.24" y1="824.00" x2="400.24" y2="819.50" stroke="#000" stroke-width="1.9" />
<line x1="406.50" y1="824.00" x2="406.50" y2="815.40" stroke="#000" stroke-width="1.9" />
<line x1="447.68" y1="824.00" x2="447.68" y2="819.50" stroke="#000" stroke-width="1.9" />
<line x1="471.77" y1="824.00" x2="471.77" y2="819.50" stroke="#000" stroke-width="1.9" />
<line x1="488.86" y1="824.00" x2="488.86" y2="819.50" stroke="#000" stroke-width="1.9" />
<line x1="502.12" y1="824.00" x2="502.12" y2="819.50" stroke="#000" stroke-width="1.9" />
<line x1="512.95" y1="824.00" x2="512.95" y2="819.50" stroke="#000" stroke-width="1.9" />
<line x1="522.11" y1="824.00" x2="522.11" y2="819.50" stroke="#000" stroke-width="1.9" />
<line x1="530.04" y1="824.00" x2="530.04" y2="819.50" stroke="#000" stroke-width="1.9" />
<line x1="537.04" y1="824.00" x2="537.04" y2="819.50" stroke="#000" stroke-width="1.9" />
<line x1="543.30" y1="824.00" x2="543.30" y2="815.40" stroke="#000" stroke-width="1.9" />
<line x1="584.48" y1="824.00" x2="584.48" y2="819.50" stroke="#000" stroke-width="1.9" />
<line x1="608.57" y1="824.00" x2="608.57" y2="819.50" stroke="#000" stroke-width="1.9" />
<line x1="625.66" y1="824.00" x2="625.66" y2="819.50" stroke="#000" stroke-width="1.9" />
<line x1="638.92" y1="824.00" x2="638.92" y2="819.50" stroke="#000" stroke-width="1.9" />
<line x1="649.75" y1="824.00" x2="649.75" y2="819.50" stroke="#000" stroke-width="1.9" />
<line x1="658.91" y1="824.00" x2="658.91" y2="819.50" stroke="#000" stroke-width="1.9" />
<line x1="666.84" y1="824.00" x2="666.84" y2="819.50" stroke="#000" stroke-width="1.9" />
<line x1="673.84" y1="824.00" x2="673.84" y2="819.50" stroke="#000" stroke-width="1.9" />
<line x1="680.10" y1="824.00" x2="680.10" y2="815.40" stroke="#000" stroke-width="1.9" />
<line x1="721.28" y1="824.00" x2="721.28" y2="819.50" stroke="#000" stroke-width="1.9" />
<g clip-path="url(#cb)">
<line x1="106.70" y1="793.90" x2="143.50" y2="793.90" stroke="#1c1c1c" stroke-width="1.15" />
<line x1="106.70" y1="789.30" x2="106.70" y2="798.50" stroke="#1c1c1c" stroke-width="1.15" />
<line x1="143.50" y1="789.30" x2="143.50" y2="798.50" stroke="#1c1c1c" stroke-width="1.15" />
<line x1="283.60" y1="719.10" x2="320.40" y2="719.10" stroke="#1c1c1c" stroke-width="1.15" />
<line x1="283.60" y1="714.50" x2="283.60" y2="723.70" stroke="#1c1c1c" stroke-width="1.15" />
<line x1="320.40" y1="714.50" x2="320.40" y2="723.70" stroke="#1c1c1c" stroke-width="1.15" />
<line x1="311.70" y1="693.60" x2="348.50" y2="693.60" stroke="#1c1c1c" stroke-width="1.15" />
<line x1="311.70" y1="689.00" x2="311.70" y2="698.20" stroke="#1c1c1c" stroke-width="1.15" />
<line x1="348.50" y1="689.00" x2="348.50" y2="698.20" stroke="#1c1c1c" stroke-width="1.15" />
<line x1="332.90" y1="687.60" x2="332.90" y2="700.70" stroke="#1c1c1c" stroke-width="1.15" />
<line x1="327.80" y1="687.60" x2="338.00" y2="687.60" stroke="#1c1c1c" stroke-width="1.15" />
<line x1="327.80" y1="700.70" x2="338.00" y2="700.70" stroke="#1c1c1c" stroke-width="1.15" />
<line x1="331.00" y1="691.00" x2="367.80" y2="691.00" stroke="#1c1c1c" stroke-width="1.15" />
<line x1="331.00" y1="686.40" x2="331.00" y2="695.60" stroke="#1c1c1c" stroke-width="1.15" />
<line x1="367.80" y1="686.40" x2="367.80" y2="695.60" stroke="#1c1c1c" stroke-width="1.15" />
<line x1="369.30" y1="667.40" x2="406.10" y2="667.40" stroke="#1c1c1c" stroke-width="1.15" />
<line x1="369.30" y1="662.80" x2="369.30" y2="672.00" stroke="#1c1c1c" stroke-width="1.15" />
<line x1="406.10" y1="662.80" x2="406.10" y2="672.00" stroke="#1c1c1c" stroke-width="1.15" />
<line x1="346.50" y1="645.40" x2="383.30" y2="645.40" stroke="#1c1c1c" stroke-width="1.15" />
<line x1="346.50" y1="640.80" x2="346.50" y2="650.00" stroke="#1c1c1c" stroke-width="1.15" />
<line x1="383.30" y1="640.80" x2="383.30" y2="650.00" stroke="#1c1c1c" stroke-width="1.15" />
<line x1="362.60" y1="637.40" x2="399.40" y2="637.40" stroke="#1c1c1c" stroke-width="1.15" />
<line x1="362.60" y1="632.80" x2="362.60" y2="642.00" stroke="#1c1c1c" stroke-width="1.15" />
<line x1="399.40" y1="632.80" x2="399.40" y2="642.00" stroke="#1c1c1c" stroke-width="1.15" />
<line x1="400.60" y1="655.60" x2="437.40" y2="655.60" stroke="#1c1c1c" stroke-width="1.15" />
<line x1="400.60" y1="651.00" x2="400.60" y2="660.20" stroke="#1c1c1c" stroke-width="1.15" />
<line x1="437.40" y1="651.00" x2="437.40" y2="660.20" stroke="#1c1c1c" stroke-width="1.15" />
<line x1="413.50" y1="657.50" x2="450.30" y2="657.50" stroke="#1c1c1c" stroke-width="1.15" />
<line x1="413.50" y1="652.90" x2="413.50" y2="662.10" stroke="#1c1c1c" stroke-width="1.15" />
<line x1="450.30" y1="652.90" x2="450.30" y2="662.10" stroke="#1c1c1c" stroke-width="1.15" />
<line x1="420.10" y1="646.80" x2="456.90" y2="646.80" stroke="#1c1c1c" stroke-width="1.15" />
<line x1="420.10" y1="642.20" x2="420.10" y2="651.40" stroke="#1c1c1c" stroke-width="1.15" />
<line x1="456.90" y1="642.20" x2="456.90" y2="651.40" stroke="#1c1c1c" stroke-width="1.15" />
<line x1="432.30" y1="608.40" x2="469.10" y2="608.40" stroke="#1c1c1c" stroke-width="1.15" />
<line x1="432.30" y1="603.80" x2="432.30" y2="613.00" stroke="#1c1c1c" stroke-width="1.15" />
<line x1="469.10" y1="603.80" x2="469.10" y2="613.00" stroke="#1c1c1c" stroke-width="1.15" />
<line x1="437.60" y1="613.00" x2="474.40" y2="613.00" stroke="#1c1c1c" stroke-width="1.15" />
<line x1="437.60" y1="608.40" x2="437.60" y2="617.60" stroke="#1c1c1c" stroke-width="1.15" />
<line x1="474.40" y1="608.40" x2="474.40" y2="617.60" stroke="#1c1c1c" stroke-width="1.15" />
<line x1="448.30" y1="609.00" x2="485.10" y2="609.00" stroke="#1c1c1c" stroke-width="1.15" />
<line x1="448.30" y1="604.40" x2="448.30" y2="613.60" stroke="#1c1c1c" stroke-width="1.15" />
<line x1="485.10" y1="604.40" x2="485.10" y2="613.60" stroke="#1c1c1c" stroke-width="1.15" />
<line x1="453.70" y1="602.30" x2="490.50" y2="602.30" stroke="#1c1c1c" stroke-width="1.15" />
<line x1="453.70" y1="597.70" x2="453.70" y2="606.90" stroke="#1c1c1c" stroke-width="1.15" />
<line x1="490.50" y1="597.70" x2="490.50" y2="606.90" stroke="#1c1c1c" stroke-width="1.15" />
<line x1="469.20" y1="596.90" x2="506.00" y2="596.90" stroke="#1c1c1c" stroke-width="1.15" />
<line x1="469.20" y1="592.30" x2="469.20" y2="601.50" stroke="#1c1c1c" stroke-width="1.15" />
<line x1="506.00" y1="592.30" x2="506.00" y2="601.50" stroke="#1c1c1c" stroke-width="1.15" />
<line x1="474.60" y1="567.50" x2="511.40" y2="567.50" stroke="#1c1c1c" stroke-width="1.15" />
<line x1="474.60" y1="562.90" x2="474.60" y2="572.10" stroke="#1c1c1c" stroke-width="1.15" />
<line x1="511.40" y1="562.90" x2="511.40" y2="572.10" stroke="#1c1c1c" stroke-width="1.15" />
<line x1="487.20" y1="579.00" x2="524.00" y2="579.00" stroke="#1c1c1c" stroke-width="1.15" />
<line x1="487.20" y1="574.40" x2="487.20" y2="583.60" stroke="#1c1c1c" stroke-width="1.15" />
<line x1="524.00" y1="574.40" x2="524.00" y2="583.60" stroke="#1c1c1c" stroke-width="1.15" />
<line x1="499.20" y1="579.00" x2="536.00" y2="579.00" stroke="#1c1c1c" stroke-width="1.15" />
<line x1="499.20" y1="574.40" x2="499.20" y2="583.60" stroke="#1c1c1c" stroke-width="1.15" />
<line x1="536.00" y1="574.40" x2="536.00" y2="583.60" stroke="#1c1c1c" stroke-width="1.15" />
<line x1="510.40" y1="556.00" x2="547.20" y2="556.00" stroke="#1c1c1c" stroke-width="1.15" />
<line x1="510.40" y1="551.40" x2="510.40" y2="560.60" stroke="#1c1c1c" stroke-width="1.15" />
<line x1="547.20" y1="551.40" x2="547.20" y2="560.60" stroke="#1c1c1c" stroke-width="1.15" />
<line x1="519.80" y1="551.40" x2="556.60" y2="551.40" stroke="#1c1c1c" stroke-width="1.15" />
<line x1="519.80" y1="546.80" x2="519.80" y2="556.00" stroke="#1c1c1c" stroke-width="1.15" />
<line x1="556.60" y1="546.80" x2="556.60" y2="556.00" stroke="#1c1c1c" stroke-width="1.15" />
<line x1="516.60" y1="564.30" x2="553.40" y2="564.30" stroke="#1c1c1c" stroke-width="1.15" />
<line x1="516.60" y1="559.70" x2="516.60" y2="568.90" stroke="#1c1c1c" stroke-width="1.15" />
<line x1="553.40" y1="559.70" x2="553.40" y2="568.90" stroke="#1c1c1c" stroke-width="1.15" />
<line x1="527.30" y1="557.60" x2="564.10" y2="557.60" stroke="#1c1c1c" stroke-width="1.15" />
<line x1="527.30" y1="553.00" x2="527.30" y2="562.20" stroke="#1c1c1c" stroke-width="1.15" />
<line x1="564.10" y1="553.00" x2="564.10" y2="562.20" stroke="#1c1c1c" stroke-width="1.15" />
<line x1="573.80" y1="519.40" x2="610.60" y2="519.40" stroke="#1c1c1c" stroke-width="1.15" />
<line x1="573.80" y1="514.80" x2="573.80" y2="524.00" stroke="#1c1c1c" stroke-width="1.15" />
<line x1="610.60" y1="514.80" x2="610.60" y2="524.00" stroke="#1c1c1c" stroke-width="1.15" />
<line x1="578.90" y1="515.10" x2="615.70" y2="515.10" stroke="#1c1c1c" stroke-width="1.15" />
<line x1="578.90" y1="510.50" x2="578.90" y2="519.70" stroke="#1c1c1c" stroke-width="1.15" />
<line x1="615.70" y1="510.50" x2="615.70" y2="519.70" stroke="#1c1c1c" stroke-width="1.15" />
<line x1="626.40" y1="486.40" x2="663.20" y2="486.40" stroke="#1c1c1c" stroke-width="1.15" />
<line x1="626.40" y1="481.80" x2="626.40" y2="491.00" stroke="#1c1c1c" stroke-width="1.15" />
<line x1="663.20" y1="481.80" x2="663.20" y2="491.00" stroke="#1c1c1c" stroke-width="1.15" />
<line x1="631.00" y1="495.10" x2="667.80" y2="495.10" stroke="#1c1c1c" stroke-width="1.15" />
<line x1="631.00" y1="490.50" x2="631.00" y2="499.70" stroke="#1c1c1c" stroke-width="1.15" />
<line x1="667.80" y1="490.50" x2="667.80" y2="499.70" stroke="#1c1c1c" stroke-width="1.15" />
<line x1="652.20" y1="486.60" x2="652.20" y2="506.10" stroke="#1c1c1c" stroke-width="1.15" />
<line x1="647.10" y1="486.60" x2="657.30" y2="486.60" stroke="#1c1c1c" stroke-width="1.15" />
<line x1="647.10" y1="506.10" x2="657.30" y2="506.10" stroke="#1c1c1c" stroke-width="1.15" />
<line x1="626.60" y1="498.80" x2="663.40" y2="498.80" stroke="#1c1c1c" stroke-width="1.15" />
<line x1="626.60" y1="494.20" x2="626.60" y2="503.40" stroke="#1c1c1c" stroke-width="1.15" />
<line x1="663.40" y1="494.20" x2="663.40" y2="503.40" stroke="#1c1c1c" stroke-width="1.15" />
<line x1="647.80" y1="487.60" x2="647.80" y2="515.80" stroke="#1c1c1c" stroke-width="1.15" />
<line x1="642.70" y1="487.60" x2="652.90" y2="487.60" stroke="#1c1c1c" stroke-width="1.15" />
<line x1="642.70" y1="515.80" x2="652.90" y2="515.80" stroke="#1c1c1c" stroke-width="1.15" />
<line x1="645.50" y1="468.60" x2="682.30" y2="468.60" stroke="#1c1c1c" stroke-width="1.15" />
<line x1="645.50" y1="464.00" x2="645.50" y2="473.20" stroke="#1c1c1c" stroke-width="1.15" />
<line x1="682.30" y1="464.00" x2="682.30" y2="473.20" stroke="#1c1c1c" stroke-width="1.15" />
<line x1="666.70" y1="459.50" x2="666.70" y2="481.00" stroke="#1c1c1c" stroke-width="1.15" />
<line x1="661.60" y1="459.50" x2="671.80" y2="459.50" stroke="#1c1c1c" stroke-width="1.15" />
<line x1="661.60" y1="481.00" x2="671.80" y2="481.00" stroke="#1c1c1c" stroke-width="1.15" />
<line x1="646.30" y1="468.00" x2="683.10" y2="468.00" stroke="#1c1c1c" stroke-width="1.15" />
<line x1="646.30" y1="463.40" x2="646.30" y2="472.60" stroke="#1c1c1c" stroke-width="1.15" />
<line x1="683.10" y1="463.40" x2="683.10" y2="472.60" stroke="#1c1c1c" stroke-width="1.15" />
<line x1="667.50" y1="461.80" x2="667.50" y2="478.60" stroke="#1c1c1c" stroke-width="1.15" />
<line x1="662.40" y1="461.80" x2="672.60" y2="461.80" stroke="#1c1c1c" stroke-width="1.15" />
<line x1="662.40" y1="478.60" x2="672.60" y2="478.60" stroke="#1c1c1c" stroke-width="1.15" />
<line x1="659.00" y1="452.90" x2="695.80" y2="452.90" stroke="#1c1c1c" stroke-width="1.15" />
<line x1="659.00" y1="448.30" x2="659.00" y2="457.50" stroke="#1c1c1c" stroke-width="1.15" />
<line x1="695.80" y1="448.30" x2="695.80" y2="457.50" stroke="#1c1c1c" stroke-width="1.15" />
<line x1="680.20" y1="439.40" x2="680.20" y2="473.60" stroke="#1c1c1c" stroke-width="1.15" />
<line x1="675.10" y1="439.40" x2="685.30" y2="439.40" stroke="#1c1c1c" stroke-width="1.15" />
<line x1="675.10" y1="473.60" x2="685.30" y2="473.60" stroke="#1c1c1c" stroke-width="1.15" />
<line x1="659.00" y1="475.80" x2="695.80" y2="475.80" stroke="#1c1c1c" stroke-width="1.15" />
<line x1="659.00" y1="471.20" x2="659.00" y2="480.40" stroke="#1c1c1c" stroke-width="1.15" />
<line x1="695.80" y1="471.20" x2="695.80" y2="480.40" stroke="#1c1c1c" stroke-width="1.15" />
<line x1="680.20" y1="463.20" x2="680.20" y2="495.70" stroke="#1c1c1c" stroke-width="1.15" />
<line x1="675.10" y1="463.20" x2="685.30" y2="463.20" stroke="#1c1c1c" stroke-width="1.15" />
<line x1="675.10" y1="495.70" x2="685.30" y2="495.70" stroke="#1c1c1c" stroke-width="1.15" />
<line x1="694.00" y1="421.40" x2="730.80" y2="421.40" stroke="#1c1c1c" stroke-width="1.15" />
<line x1="694.00" y1="416.80" x2="694.00" y2="426.00" stroke="#1c1c1c" stroke-width="1.15" />
<line x1="730.80" y1="416.80" x2="730.80" y2="426.00" stroke="#1c1c1c" stroke-width="1.15" />
<line x1="715.20" y1="407.50" x2="715.20" y2="444.90" stroke="#1c1c1c" stroke-width="1.15" />
<line x1="710.10" y1="407.50" x2="720.30" y2="407.50" stroke="#1c1c1c" stroke-width="1.15" />
<line x1="710.10" y1="444.90" x2="720.30" y2="444.90" stroke="#1c1c1c" stroke-width="1.15" />
<line x1="694.00" y1="437.00" x2="730.80" y2="437.00" stroke="#1c1c1c" stroke-width="1.15" />
<line x1="694.00" y1="432.40" x2="694.00" y2="441.60" stroke="#1c1c1c" stroke-width="1.15" />
<line x1="730.80" y1="432.40" x2="730.80" y2="441.60" stroke="#1c1c1c" stroke-width="1.15" />
<line x1="715.20" y1="428.10" x2="715.20" y2="449.20" stroke="#1c1c1c" stroke-width="1.15" />
<line x1="710.10" y1="428.10" x2="720.30" y2="428.10" stroke="#1c1c1c" stroke-width="1.15" />
<line x1="710.10" y1="449.20" x2="720.30" y2="449.20" stroke="#1c1c1c" stroke-width="1.15" />
<rect x="123.50" y="789.50" width="8.8" height="8.8" fill="#000"/>
<rect x="300.40" y="714.70" width="8.8" height="8.8" fill="#000"/>
<rect x="328.50" y="689.20" width="8.8" height="8.8" fill="#000"/>
<rect x="347.80" y="686.60" width="8.8" height="8.8" fill="#000"/>
<rect x="386.10" y="663.00" width="8.8" height="8.8" fill="#000"/>
<rect x="363.30" y="641.00" width="8.8" height="8.8" fill="#000"/>
<rect x="379.40" y="633.00" width="8.8" height="8.8" fill="#000"/>
<rect x="417.40" y="651.20" width="8.8" height="8.8" fill="#000"/>
<rect x="430.30" y="653.10" width="8.8" height="8.8" fill="#000"/>
<rect x="436.90" y="642.40" width="8.8" height="8.8" fill="#000"/>
<rect x="449.10" y="604.00" width="8.8" height="8.8" fill="#000"/>
<rect x="454.40" y="608.60" width="8.8" height="8.8" fill="#000"/>
<rect x="465.10" y="604.60" width="8.8" height="8.8" fill="#000"/>
<rect x="470.50" y="597.90" width="8.8" height="8.8" fill="#000"/>
<rect x="486.00" y="592.50" width="8.8" height="8.8" fill="#000"/>
<rect x="491.40" y="563.10" width="8.8" height="8.8" fill="#000"/>
<rect x="504.00" y="574.60" width="8.8" height="8.8" fill="#000"/>
<rect x="516.00" y="574.60" width="8.8" height="8.8" fill="#000"/>
<rect x="527.20" y="551.60" width="8.8" height="8.8" fill="#000"/>
<rect x="536.60" y="547.00" width="8.8" height="8.8" fill="#000"/>
<rect x="533.40" y="559.90" width="8.8" height="8.8" fill="#000"/>
<rect x="544.10" y="553.20" width="8.8" height="8.8" fill="#000"/>
<rect x="590.60" y="515.00" width="8.8" height="8.8" fill="#000"/>
<rect x="595.70" y="510.70" width="8.8" height="8.8" fill="#000"/>
<rect x="643.20" y="482.00" width="8.8" height="8.8" fill="#000"/>
<rect x="647.80" y="490.70" width="8.8" height="8.8" fill="#000"/>
<rect x="643.40" y="494.40" width="8.8" height="8.8" fill="#000"/>
<rect x="662.30" y="464.20" width="8.8" height="8.8" fill="#000"/>
<rect x="663.10" y="463.60" width="8.8" height="8.8" fill="#000"/>
<rect x="675.80" y="448.50" width="8.8" height="8.8" fill="#000"/>
<rect x="675.80" y="471.40" width="8.8" height="8.8" fill="#000"/>
<rect x="710.80" y="417.00" width="8.8" height="8.8" fill="#000"/>
<rect x="710.80" y="432.60" width="8.8" height="8.8" fill="#000"/>
<line x1="439.80" y1="609.50" x2="476.60" y2="609.50" stroke="#0000ff" stroke-width="1.15" />
<line x1="439.80" y1="604.90" x2="439.80" y2="614.10" stroke="#0000ff" stroke-width="1.15" />
<line x1="476.60" y1="604.90" x2="476.60" y2="614.10" stroke="#0000ff" stroke-width="1.15" />
<line x1="506.70" y1="560.00" x2="543.50" y2="560.00" stroke="#0000ff" stroke-width="1.15" />
<line x1="506.70" y1="555.40" x2="506.70" y2="564.60" stroke="#0000ff" stroke-width="1.15" />
<line x1="543.50" y1="555.40" x2="543.50" y2="564.60" stroke="#0000ff" stroke-width="1.15" />
<line x1="537.50" y1="546.90" x2="574.30" y2="546.90" stroke="#0000ff" stroke-width="1.15" />
<line x1="537.50" y1="542.30" x2="537.50" y2="551.50" stroke="#0000ff" stroke-width="1.15" />
<line x1="574.30" y1="542.30" x2="574.30" y2="551.50" stroke="#0000ff" stroke-width="1.15" />
<line x1="583.90" y1="523.00" x2="620.70" y2="523.00" stroke="#0000ff" stroke-width="1.15" />
<line x1="583.90" y1="518.40" x2="583.90" y2="527.60" stroke="#0000ff" stroke-width="1.15" />
<line x1="620.70" y1="518.40" x2="620.70" y2="527.60" stroke="#0000ff" stroke-width="1.15" />
<line x1="583.90" y1="527.00" x2="620.70" y2="527.00" stroke="#0000ff" stroke-width="1.15" />
<line x1="583.90" y1="522.40" x2="583.90" y2="531.60" stroke="#0000ff" stroke-width="1.15" />
<line x1="620.70" y1="522.40" x2="620.70" y2="531.60" stroke="#0000ff" stroke-width="1.15" />
<line x1="583.90" y1="531.30" x2="620.70" y2="531.30" stroke="#0000ff" stroke-width="1.15" />
<line x1="583.90" y1="526.70" x2="583.90" y2="535.90" stroke="#0000ff" stroke-width="1.15" />
<line x1="620.70" y1="526.70" x2="620.70" y2="535.90" stroke="#0000ff" stroke-width="1.15" />
<line x1="640.20" y1="485.60" x2="677.00" y2="485.60" stroke="#0000ff" stroke-width="1.15" />
<line x1="640.20" y1="481.00" x2="640.20" y2="490.20" stroke="#0000ff" stroke-width="1.15" />
<line x1="677.00" y1="481.00" x2="677.00" y2="490.20" stroke="#0000ff" stroke-width="1.15" />
<line x1="653.20" y1="488.10" x2="690.00" y2="488.10" stroke="#0000ff" stroke-width="1.15" />
<line x1="653.20" y1="483.50" x2="653.20" y2="492.70" stroke="#0000ff" stroke-width="1.15" />
<line x1="690.00" y1="483.50" x2="690.00" y2="492.70" stroke="#0000ff" stroke-width="1.15" />
<line x1="676.20" y1="468.60" x2="713.00" y2="468.60" stroke="#0000ff" stroke-width="1.15" />
<line x1="676.20" y1="464.00" x2="676.20" y2="473.20" stroke="#0000ff" stroke-width="1.15" />
<line x1="713.00" y1="464.00" x2="713.00" y2="473.20" stroke="#0000ff" stroke-width="1.15" />
<line x1="679.00" y1="470.60" x2="715.80" y2="470.60" stroke="#0000ff" stroke-width="1.15" />
<line x1="679.00" y1="466.00" x2="679.00" y2="475.20" stroke="#0000ff" stroke-width="1.15" />
<line x1="715.80" y1="466.00" x2="715.80" y2="475.20" stroke="#0000ff" stroke-width="1.15" />
<line x1="128.30" y1="819.70" x2="715.30" y2="447.80" stroke="#ff0000" stroke-width="3.8" stroke-linecap="round"/>
<polygon points="453.70,609.50 461.00,602.20 468.30,609.50 461.00,616.80" fill="#0000ff"/>
<polygon points="520.60,560.00 527.90,552.70 535.20,560.00 527.90,567.30" fill="#0000ff"/>
<polygon points="551.40,546.90 558.70,539.60 566.00,546.90 558.70,554.20" fill="#0000ff"/>
<polygon points="597.80,523.00 605.10,515.70 612.40,523.00 605.10,530.30" fill="#0000ff"/>
<polygon points="597.80,527.00 605.10,519.70 612.40,527.00 605.10,534.30" fill="#0000ff"/>
<polygon points="597.80,531.30 605.10,524.00 612.40,531.30 605.10,538.60" fill="#0000ff"/>
<polygon points="654.10,485.60 661.40,478.30 668.70,485.60 661.40,492.90" fill="#0000ff"/>
<polygon points="667.10,488.10 674.40,480.80 681.70,488.10 674.40,495.40" fill="#0000ff"/>
<polygon points="690.10,468.60 697.40,461.30 704.70,468.60 697.40,475.90" fill="#0000ff"/>
<polygon points="692.90,470.60 700.20,463.30 707.50,470.60 700.20,477.90" fill="#0000ff"/>
</g>
<rect x="92.1" y="403.1" width="653.3" height="420.9" fill="none" stroke="#000" stroke-width="2.0" stroke-linejoin="round"/>
<path d="M763 0H583V1147Q518 1085 412.5 1023T223 930V1104Q371 1174 482 1273T639 1466H763V0Z" fill="#000" transform="translate(36.56,833.80) scale(0.01284,-0.01284)"/>
<text x="51.19" y="833.80" font-size="26.3" fill="#000" xml:space="preserve">0</text>
<text x="66.72" y="822.50" font-size="18.2" fill="#000" xml:space="preserve">-3</text>
<path d="M763 0H583V1147Q518 1085 412.5 1023T223 930V1104Q371 1174 482 1273T639 1466H763V0Z" fill="#000" transform="translate(36.56,746.90) scale(0.01284,-0.01284)"/>
<text x="51.19" y="746.90" font-size="26.3" fill="#000" xml:space="preserve">0</text>
<text x="66.72" y="735.60" font-size="18.2" fill="#000" xml:space="preserve">-2</text>
<path d="M763 0H583V1147Q518 1085 412.5 1023T223 930V1104Q371 1174 482 1273T639 1466H763V0Z" fill="#000" transform="translate(36.56,660.00) scale(0.01284,-0.01284)"/>
<text x="51.19" y="660.00" font-size="26.3" fill="#000" xml:space="preserve">0</text>
<text x="66.72" y="648.70" font-size="18.2" fill="#000" xml:space="preserve">-</text>
<path d="M763 0H583V1147Q518 1085 412.5 1023T223 930V1104Q371 1174 482 1273T639 1466H763V0Z" fill="#000" transform="translate(72.78,648.70) scale(0.00889,-0.00889)"/>
<path d="M763 0H583V1147Q518 1085 412.5 1023T223 930V1104Q371 1174 482 1273T639 1466H763V0Z" fill="#000" transform="translate(42.62,573.10) scale(0.01284,-0.01284)"/>
<text x="57.25" y="573.10" font-size="26.3" fill="#000" xml:space="preserve">0</text>
<text x="72.78" y="561.80" font-size="18.2" fill="#000" xml:space="preserve">0</text>
<path d="M763 0H583V1147Q518 1085 412.5 1023T223 930V1104Q371 1174 482 1273T639 1466H763V0Z" fill="#000" transform="translate(42.62,486.20) scale(0.01284,-0.01284)"/>
<text x="57.25" y="486.20" font-size="26.3" fill="#000" xml:space="preserve">0</text>
<path d="M763 0H583V1147Q518 1085 412.5 1023T223 930V1104Q371 1174 482 1273T639 1466H763V0Z" fill="#000" transform="translate(72.78,474.90) scale(0.00889,-0.00889)"/>
<path d="M763 0H583V1147Q518 1085 412.5 1023T223 930V1104Q371 1174 482 1273T639 1466H763V0Z" fill="#000" transform="translate(110.23,857.60) scale(0.01284,-0.01284)"/>
<text x="124.86" y="857.60" font-size="26.3" fill="#000" xml:space="preserve">0</text>
<text x="140.39" y="847.20" font-size="18.2" fill="#000" xml:space="preserve">-6</text>
<path d="M763 0H583V1147Q518 1085 412.5 1023T223 930V1104Q371 1174 482 1273T639 1466H763V0Z" fill="#000" transform="translate(247.03,857.60) scale(0.01284,-0.01284)"/>
<text x="261.66" y="857.60" font-size="26.3" fill="#000" xml:space="preserve">0</text>
<text x="277.19" y="847.20" font-size="18.2" fill="#000" xml:space="preserve">-5</text>
<path d="M763 0H583V1147Q518 1085 412.5 1023T223 930V1104Q371 1174 482 1273T639 1466H763V0Z" fill="#000" transform="translate(383.83,857.60) scale(0.01284,-0.01284)"/>
<text x="398.46" y="857.60" font-size="26.3" fill="#000" xml:space="preserve">0</text>
<text x="413.99" y="847.20" font-size="18.2" fill="#000" xml:space="preserve">-4</text>
<path d="M763 0H583V1147Q518 1085 412.5 1023T223 930V1104Q371 1174 482 1273T639 1466H763V0Z" fill="#000" transform="translate(520.63,857.60) scale(0.01284,-0.01284)"/>
<text x="535.26" y="857.60" font-size="26.3" fill="#000" xml:space="preserve">0</text>
<text x="550.79" y="847.20" font-size="18.2" fill="#000" xml:space="preserve">-3</text>
<path d="M763 0H583V1147Q518 1085 412.5 1023T223 930V1104Q371 1174 482 1273T639 1466H763V0Z" fill="#000" transform="translate(657.43,857.60) scale(0.01284,-0.01284)"/>
<text x="672.06" y="857.60" font-size="26.3" fill="#000" xml:space="preserve">0</text>
<text x="687.59" y="847.20" font-size="18.2" fill="#000" xml:space="preserve">-2</text>
<text x="322.53" y="894.50" font-size="26.5" fill="#000" letter-spacing="0.063" xml:space="preserve">Pressure (mbar)</text>
<g transform="translate(26.80,0.00) rotate(-90)">
<text x="-706.17" y="0.00" font-size="26.5" fill="#000" letter-spacing="-0.030" xml:space="preserve">Decay rate (Hz)</text>
</g>
<text x="6.46" y="394.60" font-size="26.5" fill="#000" letter-spacing="0.449" xml:space="preserve">(b)</text>
<rect x="121.0" y="420.3" width="8.8" height="8.8" fill="#000"/>
<polygon points="119.3,454.8 125.8,448.3 132.3,454.8 125.8,461.3" fill="#0000ff"/>
<line x1="98.80" y1="484.80" x2="152.40" y2="484.80" stroke="#ff0000" stroke-width="3.7" stroke-linecap="round"/>
<text x="159.22" y="433.10" font-size="24.2" fill="#000" letter-spacing="0.124" xml:space="preserve">Relaxation measurements</text>
<text x="159.12" y="463.00" font-size="24.2" fill="#000" letter-spacing="0.116" xml:space="preserve">Linewidth measurements</text>
<text x="159.37" y="493.00" font-size="24.2" fill="#000" letter-spacing="0.056" xml:space="preserve">Theoretically calculated decay rate</text>
<text x="307.82" y="751.40" font-size="24.2" fill="#000" letter-spacing="0.037" xml:space="preserve">Relaxation slope</text>
<text x="487.34" y="754.11" font-size="24.2" fill="#000">=</text>
<text x="501.51" y="751.40" font-size="24.2" fill="#000" letter-spacing="0.037" xml:space="preserve"> </text>
<path d="M763 0H583V1147Q518 1085 412.5 1023T223 930V1104Q371 1174 482 1273T639 1466H763V0Z" fill="#000" transform="translate(508.27,751.40) scale(0.01182,-0.01182)"/>
<text x="521.77" y="751.40" font-size="24.2" fill="#000" letter-spacing="0.037" xml:space="preserve">0</text>
<path d="M763 0H583V1147Q518 1085 412.5 1023T223 930V1104Q371 1174 482 1273T639 1466H763V0Z" fill="#000" transform="translate(535.26,751.40) scale(0.01182,-0.01182)"/>
<text x="548.76" y="751.40" font-size="24.2" fill="#000" letter-spacing="0.037" xml:space="preserve">0 ± 60 Hz/mbar</text>
<text x="307.62" y="781.20" font-size="24.2" fill="#0000ff" letter-spacing="0.052" xml:space="preserve">Line width slope</text>
<text x="481.99" y="783.91" font-size="24.2" fill="#0000ff">=</text>
<text x="496.18" y="781.20" font-size="24.2" fill="#0000ff" letter-spacing="0.052" xml:space="preserve"> 890 ± 50 Hz/mbar</text>
<text x="307.57" y="811.20" font-size="24.2" fill="#ff0000" letter-spacing="0.078" xml:space="preserve">Theoretical slope </text>
<text x="499.98" y="813.91" font-size="24.2" fill="#ff0000">=</text>
<text x="514.19" y="811.20" font-size="24.2" fill="#ff0000" letter-spacing="0.078" xml:space="preserve"> </text>
<path d="M763 0H583V1147Q518 1085 412.5 1023T223 930V1104Q371 1174 482 1273T639 1466H763V0Z" fill="#ff0000" transform="translate(520.99,811.20) scale(0.01182,-0.01182)"/>
<path d="M763 0H583V1147Q518 1085 412.5 1023T223 930V1104Q371 1174 482 1273T639 1466H763V0Z" fill="#ff0000" transform="translate(534.53,811.20) scale(0.01182,-0.01182)"/>
<text x="548.06" y="811.20" font-size="24.2" fill="#ff0000" letter-spacing="0.078" xml:space="preserve">30 ± </text>
<path d="M763 0H583V1147Q518 1085 412.5 1023T223 930V1104Q371 1174 482 1273T639 1466H763V0Z" fill="#ff0000" transform="translate(602.10,811.20) scale(0.01182,-0.01182)"/>
<text x="615.64" y="811.20" font-size="24.2" fill="#ff0000" letter-spacing="0.078" xml:space="preserve">80 Hz/mbar</text>
</svg></body></html>
